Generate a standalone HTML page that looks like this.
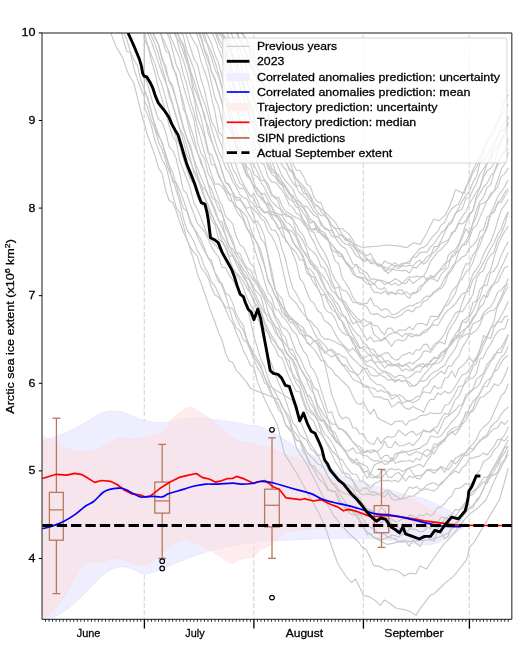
<!DOCTYPE html><html><head><meta charset="utf-8"><style>html,body{margin:0;padding:0;background:#fff;}svg{display:block;will-change:transform;}text{font-family:"Liberation Sans",sans-serif;fill:#000;stroke:#000;stroke-width:0.28px;}</style></head><body>
<svg width="522" height="652" viewBox="0 0 522 652">
<defs><clipPath id="ax"><rect x="42" y="32.9" width="469.8" height="586.4"/></clipPath></defs>
<g clip-path="url(#ax)">
<line x1="144.25" y1="32.9" x2="144.25" y2="619.3" stroke="#d6d6d6" stroke-width="1.15" stroke-dasharray="4.95,2.15" stroke-dashoffset="4.96"/>
<line x1="253.76" y1="32.9" x2="253.76" y2="619.3" stroke="#d6d6d6" stroke-width="1.15" stroke-dasharray="4.95,2.15" stroke-dashoffset="4.96"/>
<line x1="363.27" y1="32.9" x2="363.27" y2="619.3" stroke="#d6d6d6" stroke-width="1.15" stroke-dasharray="4.95,2.15" stroke-dashoffset="4.96"/>
<line x1="469.25" y1="32.9" x2="469.25" y2="619.3" stroke="#d6d6d6" stroke-width="1.15" stroke-dasharray="4.95,2.15" stroke-dashoffset="4.96"/>
<path d="M42.5,441.0 C43.4,440.7 44.9,440.2 47.7,439.3 C50.5,438.4 54.7,437.2 59.2,435.4 C63.7,433.6 69.7,431.1 74.5,428.7 C79.3,426.3 83.1,423.8 87.9,421.1 C92.7,418.4 97.8,414.1 103.2,412.5 C108.6,410.9 114.4,410.4 120.5,411.5 C126.6,412.6 133.0,417.3 139.6,419.2 C146.2,421.1 153.4,422.7 160.0,422.8 C166.6,422.9 172.8,420.7 179.2,419.9 C185.6,419.1 191.9,418.0 198.3,418.0 C204.7,418.0 211.1,419.1 217.5,419.9 C223.9,420.7 230.8,421.8 236.6,422.8 C242.3,423.8 248.1,425.1 252.0,425.7 C255.9,426.3 255.5,424.9 260.0,426.6 C264.5,428.4 272.8,432.5 279.2,436.2 C285.6,439.9 291.9,444.9 298.3,448.6 C304.7,452.3 311.1,454.4 317.5,458.2 C323.9,462.0 331.4,468.3 336.6,471.6 C341.9,474.9 342.1,475.7 349.0,478.2 C355.9,480.7 368.3,484.0 378.0,486.8 C387.7,489.6 399.4,493.0 407.2,495.0 C414.9,497.0 419.4,497.3 424.5,499.0 C429.6,500.7 433.8,503.0 438.0,505.0 C442.2,507.0 446.3,508.8 450.0,511.0 C453.7,513.2 457.2,515.6 460.0,518.0 C462.8,520.4 465.8,524.2 467.0,525.5 L466.0,526.0 C465.1,526.6 463.3,527.8 460.7,529.5 C458.1,531.2 454.0,534.2 450.3,536.4 C446.6,538.5 442.6,541.0 438.3,542.4 C434.0,543.8 429.7,545.0 424.5,545.0 C419.3,545.0 416.6,543.5 407.2,542.4 C397.8,541.3 381.2,539.1 368.3,538.5 C355.4,537.9 343.1,538.2 330.0,538.5 C316.9,538.8 301.7,539.6 290.0,540.0 C278.3,540.4 266.0,540.8 260.0,541.1 C254.0,541.4 257.8,541.4 253.9,542.0 C250.0,542.6 242.7,543.8 236.6,544.9 C230.5,546.0 222.0,547.7 217.5,548.7 C213.0,549.7 213.0,549.7 209.8,550.7 C206.6,551.7 202.5,553.1 198.3,554.5 C194.2,555.9 189.4,557.5 184.9,559.3 C180.4,561.0 175.7,563.2 171.5,565.0 C167.3,566.8 162.8,568.7 160.0,569.8 C157.2,570.9 157.8,571.0 155.0,571.7 C152.2,572.4 147.2,574.5 143.4,574.0 C139.6,573.5 135.8,570.2 132.0,569.0 C128.2,567.8 124.7,566.1 120.5,566.7 C116.3,567.3 111.7,569.0 106.7,572.4 C101.7,575.8 96.0,582.2 90.6,587.4 C85.2,592.6 79.9,598.8 74.5,603.4 C69.1,608.0 63.4,612.2 58.4,614.9 C53.4,617.5 47.2,618.6 44.6,619.3 C42.0,620.0 42.9,619.3 42.5,619.3 Z" fill="#eeeeff" stroke="#e6e6fb" stroke-width="0.8"/>
<path d="M42.5,435.4 C44.0,436.2 47.8,438.1 51.5,440.2 C55.2,442.3 60.4,446.0 64.9,447.9 C69.4,449.8 73.8,451.2 78.3,451.7 C82.8,452.2 86.9,452.1 91.7,450.8 C96.5,449.5 102.2,446.3 107.0,444.1 C111.8,441.9 116.7,438.2 120.5,437.4 C124.3,436.6 126.8,439.1 130.0,439.3 C133.2,439.5 136.3,438.9 139.6,438.3 C142.9,437.8 146.6,436.8 150.0,436.0 C153.4,435.2 157.4,434.4 160.0,433.3 C162.6,432.2 163.8,431.9 165.7,429.5 C167.6,427.1 169.2,421.7 171.5,419.0 C173.8,416.3 176.3,415.1 179.2,413.2 C182.1,411.3 186.1,408.2 188.7,407.5 C191.2,406.8 192.3,407.9 194.5,408.8 C196.7,409.8 199.9,411.8 202.1,413.2 C204.3,414.6 205.3,414.9 207.9,417.0 C210.5,419.1 214.3,423.0 217.5,425.7 C220.7,428.4 224.4,431.2 227.0,433.3 C229.6,435.4 229.9,436.7 232.8,438.1 C235.7,439.6 240.8,441.0 244.3,442.0 C247.8,443.0 251.3,443.3 253.9,443.9 C256.5,444.5 257.1,445.0 260.0,445.8 C262.9,446.6 266.7,446.9 271.5,448.6 C276.3,450.3 282.6,453.6 288.7,456.0 C294.8,458.4 301.1,459.2 308.0,463.0 C314.9,466.8 323.2,475.3 330.0,479.0 C336.8,482.7 341.0,482.9 349.0,485.0 C357.0,487.1 368.3,489.5 378.0,491.6 C387.7,493.7 399.4,495.2 407.2,497.6 C414.9,500.0 419.3,503.5 424.5,506.2 C429.7,508.9 434.3,511.7 438.3,514.0 C442.3,516.3 445.2,518.3 448.6,520.0 C452.1,521.7 456.4,523.3 459.0,524.3 C461.6,525.3 463.2,525.7 464.0,526.0 L464.0,526.0 C461.7,526.2 456.6,526.7 450.0,527.0 C443.4,527.3 431.7,527.8 424.5,528.0 C417.3,528.2 416.4,528.0 407.0,528.0 C397.6,528.0 381.1,528.2 368.3,528.0 C355.5,527.8 339.7,526.8 330.0,527.0 C320.3,527.2 316.9,528.3 310.0,529.0 C303.1,529.7 293.8,530.0 288.7,531.3 C283.6,532.6 282.4,534.6 279.2,537.0 C276.0,539.4 272.8,543.5 269.6,545.7 C266.4,548.0 262.6,548.7 260.0,550.5 C257.4,552.3 257.1,554.9 253.9,556.4 C250.7,557.9 244.3,558.2 240.5,559.3 C236.7,560.4 234.7,563.9 230.9,563.1 C227.1,562.3 221.3,556.9 217.5,554.5 C213.7,552.1 212.1,550.8 207.9,548.7 C203.8,546.6 196.8,543.6 192.6,542.0 C188.4,540.4 186.8,538.4 183.0,539.2 C179.2,540.0 173.4,544.2 169.6,546.8 C165.8,549.3 163.2,551.8 160.0,554.5 C156.8,557.2 153.8,561.5 150.3,563.2 C146.8,564.9 142.7,565.2 138.9,564.8 C135.1,564.4 130.8,562.0 127.4,560.9 C124.0,559.8 122.0,557.9 118.2,557.9 C114.4,557.9 108.6,560.2 104.4,560.9 C100.2,561.6 96.0,561.9 92.9,562.0 C89.8,562.1 89.1,558.9 86.0,561.6 C82.9,564.3 78.3,572.0 74.5,578.2 C70.7,584.4 67.2,592.8 63.0,598.9 C58.8,605.0 52.6,611.5 49.2,614.9 C45.8,618.3 43.6,618.6 42.5,619.3 Z" fill="#ffdcdc" fill-opacity="0.5" stroke="#ffd4d4" stroke-opacity="0.4" stroke-width="0.8"/>
<polyline points="87.9,-22.8 91.4,-9.9 94.9,-5.6 98.5,-1.1 102.0,1.4 105.5,7.7 109.1,14.4 112.6,20.6 116.1,22.1 119.7,25.9 123.2,39.1 126.7,51.3 130.3,52.5 133.8,67.7 137.3,79.2 140.9,88.5 144.4,97.2 144.4,107.4 144.4,107.4 147.9,115.6 151.5,126.7 155.0,140.9 158.5,149.6 162.1,159.8 165.6,165.6 169.1,178.8 172.7,194.7 176.2,207.6 179.7,212.7 183.3,225.3 186.8,239.7 190.3,246.9 193.9,252.7 197.4,256.2 200.9,267.4 204.5,272.0 208.0,277.5 211.5,287.7 215.0,295.0 218.6,297.1 222.1,301.7 225.6,309.5 229.2,317.9 232.7,323.2 236.2,332.6 239.8,340.7 243.3,350.4 246.8,357.1 250.4,365.2 253.9,367.2 257.4,381.6 261.0,390.4 264.9,400.0 277.2,424.5 284.5,453.9 296.8,473.5 309.0,495.6 318.8,512.7 326.2,529.9 333.5,552.0 338.2,564.5 345.9,576.0 351.6,582.7 355.4,578.9 359.3,586.5 363.1,595.1 369.8,597.0 375.6,600.9 380.3,605.7 384.2,599.9 389.0,602.8 396.6,608.5 404.3,609.5 410.0,611.4 415.9,615.4 418.7,610.6 423.5,604.4 430.2,595.3 434.1,593.8 438.0,590.0 445.7,582.4 453.3,576.6 461.0,567.0 466.7,559.4 469.6,546.9 474.4,542.1 482.0,528.7 487.8,519.2 493.5,509.6 499.3,500.0 504.0,484.0 508.3,468.0" fill="none" stroke="#c6c6c6" stroke-width="1.1" stroke-linejoin="round"/>
<polyline points="91.4,-3.2 94.9,6.5 98.5,7.9 102.0,17.6 105.5,20.1 109.1,28.3 112.6,37.9 116.1,46.8 119.7,52.7 123.2,59.1 126.7,70.0 130.3,77.3 133.8,83.0 137.3,97.1 140.9,111.7 144.4,124.0 147.9,136.3 151.5,145.7 155.0,155.9 158.5,167.6 162.1,173.7 165.6,190.2 169.1,200.5 172.7,202.3 176.2,211.0 179.7,221.8 183.3,232.1 186.8,238.4 190.3,249.4 193.9,260.6 197.4,274.1 200.9,282.5 204.5,293.0 208.0,303.1 211.5,313.4 215.0,322.3 218.6,332.9 222.1,340.0 225.6,353.6 229.2,361.0 232.7,362.2 236.2,370.3 239.8,373.9 243.3,378.3 246.8,382.4 250.4,388.4 279.6,400.0 289.4,422.0 296.8,449.0 306.6,463.7 316.4,483.3 323.7,498.0 333.5,515.2 343.3,527.5 353.1,537.3 358.3,541.5 362.1,547.2 366.0,549.2 369.8,556.8 373.6,565.4 379.4,566.4 387.0,570.2 391.8,569.3 398.5,571.2 404.3,576.0 410.0,573.1 415.8,574.0 419.8,566.1 426.5,569.0 434.2,557.5 443.7,544.1 451.4,536.4 459.1,526.8 464.8,519.2 470.6,513.4 478.2,507.7 485.9,500.0 497.0,475.0 508.3,454.0" fill="none" stroke="#c6c6c6" stroke-width="1.1" stroke-linejoin="round"/>
<polyline points="98.5,-15.0 102.0,-4.4 105.5,1.4 109.1,7.9 112.6,12.5 116.1,23.3 119.7,24.4 123.2,31.5 126.7,39.1 130.3,51.7 133.8,59.8 137.3,65.2 140.9,80.8 144.4,88.9 144.4,99.9 144.4,99.9 147.9,108.2 151.5,121.4 155.0,129.5 158.5,141.9 162.1,149.4 165.6,160.2 169.1,171.5 172.7,178.1 176.2,190.5 179.7,201.1 183.3,218.1 186.8,229.6 190.3,235.1 193.9,241.4 197.4,250.6 200.9,256.3 204.5,267.3 208.0,272.6 211.5,282.1 215.0,286.2 218.6,293.8 222.1,301.5 225.6,307.0 229.2,308.4 232.7,319.9 236.2,327.9 239.8,330.9 243.3,339.8 246.8,342.0 250.4,351.0 253.9,359.7 257.4,367.9 261.0,373.0 264.5,383.1 291.9,400.0 301.7,424.5 309.0,441.7 318.8,456.4 326.2,473.5 336.0,488.2 345.8,502.9 355.6,515.2 365.0,530.0 371.7,535.7 379.4,540.5 387.0,544.4 392.8,543.4 402.4,540.5 410.0,541.5 420.0,540.5 426.5,540.2 438.0,537.4 447.6,533.5 459.1,521.1 466.7,511.5 472.5,505.7 478.2,500.0 492.0,470.0 508.3,440.0" fill="none" stroke="#c6c6c6" stroke-width="1.1" stroke-linejoin="round"/>
<polyline points="98.5,-66.9 102.0,-61.1 105.5,-55.1 109.1,-45.6 112.6,-43.4 116.1,-40.7 119.7,-37.7 123.2,-28.5 126.7,-19.3 130.3,-8.0 133.8,-3.9 137.3,1.7 140.9,15.5 144.4,25.0 144.4,89.2 144.4,89.2 147.9,99.7 151.5,111.8 155.0,128.2 158.5,135.9 162.1,142.3 165.6,155.8 169.1,165.9 172.7,181.9 176.2,182.6 179.7,189.9 183.3,199.5 186.8,209.9 190.3,220.4 193.9,228.3 197.4,236.7 200.9,244.3 204.5,251.0 208.0,257.4 211.5,260.2 215.0,272.8 218.6,278.0 222.1,286.4 225.6,295.5 229.2,307.1 232.7,308.9 236.2,317.8 239.8,325.6 243.3,330.2 246.8,340.5 250.4,346.6 253.9,353.9 257.4,359.1 261.0,365.3 264.5,377.6 268.0,383.3 271.6,392.9 275.1,401.1 278.6,409.7 282.2,414.7 285.7,425.3 289.2,429.7 292.8,432.5 296.3,440.5 299.8,441.2 303.4,451.5 306.9,456.8 310.4,463.8 314.0,470.1 317.5,477.0 321.0,481.2 324.6,484.3 328.1,490.1 331.6,490.6 335.2,491.4 338.7,501.8 342.2,502.8 345.8,507.2 349.3,511.2 352.8,509.3 356.4,513.6 359.9,519.7 363.4,524.8 367.0,534.9 370.5,533.4 374.0,537.7 377.5,538.3 381.1,539.7 384.6,538.9 388.1,536.3 391.7,538.2 395.2,538.5 398.7,542.2 402.3,542.2 405.8,541.2 409.3,546.5 412.9,539.8 416.4,543.5 419.9,546.7 423.5,540.3 427.0,535.4 430.5,539.9 434.1,541.2 437.6,531.3 441.1,533.3 444.7,538.6 448.2,536.2 451.7,526.5 455.3,523.3 458.8,519.4 462.3,513.9 465.9,510.1 469.4,508.2 472.9,507.9 476.5,499.5 480.0,496.6 483.5,489.3 487.1,477.9 490.6,472.4 494.1,467.8 497.7,462.4 501.2,454.9 504.7,447.5 508.3,446.6" fill="none" stroke="#c6c6c6" stroke-width="1.1" stroke-linejoin="round"/>
<polyline points="94.9,-72.2 98.5,-63.4 102.0,-59.6 105.5,-61.2 109.1,-54.6 112.6,-46.2 116.1,-39.5 119.7,-34.1 123.2,-27.9 126.7,-20.1 130.3,-10.8 133.8,-5.2 137.3,0.1 140.9,13.3 144.4,25.0 144.4,91.4 144.4,91.4 147.9,98.0 151.5,113.5 155.0,124.3 158.5,134.3 162.1,143.0 165.6,153.5 169.1,165.2 172.7,172.4 176.2,184.5 179.7,196.7 183.3,208.1 186.8,211.1 190.3,223.4 193.9,227.9 197.4,233.4 200.9,239.5 204.5,248.7 208.0,257.7 211.5,264.1 215.0,272.5 218.6,282.0 222.1,283.6 225.6,293.6 229.2,295.4 232.7,303.4 236.2,313.8 239.8,320.5 243.3,325.6 246.8,338.9 250.4,348.2 253.9,357.0 257.4,362.1 261.0,368.1 264.5,376.4 268.0,386.7 271.6,395.4 275.1,399.2 278.6,404.9 282.2,413.6 285.7,424.8 289.2,428.2 292.8,433.8 296.3,439.6 299.8,441.5 303.4,447.5 306.9,457.9 310.4,465.7 314.0,465.9 317.5,471.6 321.0,474.9 324.6,481.5 328.1,489.2 331.6,491.7 335.2,491.6 338.7,496.7 342.2,504.9 345.8,508.7 349.3,512.9 352.8,514.9 356.4,515.2 359.9,514.2 363.4,519.5 367.0,524.9 370.5,527.2 374.0,529.3 377.5,532.2 381.1,533.2 384.6,534.1 388.1,538.0 391.7,534.9 395.2,535.5 398.7,537.2 402.3,534.0 405.8,534.7 409.3,528.9 412.9,529.0 416.4,529.7 419.9,531.8 423.5,531.4 427.0,527.3 430.5,528.5 434.1,524.5 437.6,529.1 441.1,524.3 444.7,519.1 448.2,516.5 451.7,514.6 455.3,509.4 458.8,509.9 462.3,508.7 465.9,503.2 469.4,495.4 472.9,491.3 476.5,488.5 480.0,483.3 483.5,477.8 487.1,476.8 490.6,477.7 494.1,470.7 497.7,465.5 501.2,457.7 504.7,452.4 508.3,445.9" fill="none" stroke="#c6c6c6" stroke-width="1.1" stroke-linejoin="round"/>
<polyline points="119.7,-16.7 123.2,-15.1 126.7,-5.0 130.3,4.7 133.8,5.3 137.3,11.6 140.9,17.8 144.4,25.0 144.4,38.7 144.4,38.7 147.9,47.1 151.5,60.8 155.0,72.9 158.5,88.2 162.1,99.3 165.6,111.3 169.1,125.7 172.7,136.3 176.2,141.6 179.7,160.6 183.3,169.8 186.8,179.0 190.3,188.3 193.9,202.8 197.4,209.2 200.9,217.8 204.5,227.5 208.0,235.9 211.5,241.2 215.0,244.6 218.6,248.7 222.1,249.3 225.6,258.7 229.2,263.2 232.7,270.5 236.2,273.6 239.8,279.7 243.3,287.8 246.8,297.3 250.4,304.6 253.9,310.8 257.4,316.7 261.0,327.4 264.5,343.7 268.0,355.2 271.6,364.0 275.1,373.7 278.6,383.1 282.2,390.6 285.7,400.1 289.2,410.9 292.8,422.6 296.3,426.8 299.8,435.0 303.4,437.8 306.9,440.5 310.4,448.5 314.0,451.7 317.5,456.1 321.0,454.5 324.6,459.5 328.1,470.2 331.6,471.2 335.2,473.7 338.7,478.2 342.2,482.6 345.8,483.9 349.3,485.9 352.8,489.0 356.4,495.8 359.9,498.6 363.4,504.9 367.0,509.1 370.5,510.0 374.0,512.9 377.5,513.7 381.1,507.6 384.6,510.7 388.1,516.8 391.7,524.0 395.2,525.0 398.7,527.8 402.3,531.9 405.8,526.8 409.3,528.0 412.9,526.3 416.4,517.7 419.9,520.6 423.5,522.0 427.0,521.7 430.5,522.7 434.1,524.0 437.6,522.4 441.1,517.2 444.7,517.4 448.2,519.3 451.7,518.8 455.3,516.6 458.8,511.4 462.3,505.9 465.9,501.6 469.4,495.8 472.9,494.7 476.5,489.4 480.0,486.2 483.5,481.5 487.1,483.7 490.6,474.5 494.1,475.1 497.7,472.0 501.2,463.3 504.7,459.7 508.3,450.0" fill="none" stroke="#c6c6c6" stroke-width="1.1" stroke-linejoin="round"/>
<polyline points="105.5,-54.8 109.1,-46.1 112.6,-40.1 116.1,-36.7 119.7,-27.0 123.2,-18.9 126.7,-15.8 130.3,-10.3 133.8,-0.9 137.3,8.3 140.9,21.8 144.4,25.0 144.4,75.2 144.4,75.2 147.9,85.1 151.5,98.4 155.0,109.3 158.5,119.2 162.1,122.4 165.6,131.6 169.1,146.6 172.7,150.5 176.2,158.6 179.7,173.5 183.3,190.0 186.8,193.9 190.3,204.9 193.9,213.8 197.4,223.5 200.9,227.3 204.5,231.6 208.0,238.4 211.5,246.9 215.0,252.6 218.6,257.0 222.1,267.4 225.6,267.8 229.2,274.9 232.7,280.0 236.2,286.3 239.8,291.2 243.3,297.7 246.8,303.8 250.4,320.2 253.9,336.3 257.4,347.6 261.0,360.0 264.5,366.4 268.0,378.4 271.6,386.3 275.1,392.1 278.6,398.7 282.2,407.5 285.7,411.7 289.2,416.9 292.8,430.1 296.3,434.1 299.8,439.2 303.4,445.6 306.9,452.3 310.4,456.2 314.0,459.6 317.5,463.9 321.0,465.3 324.6,469.0 328.1,477.0 331.6,483.3 335.2,483.9 338.7,490.0 342.2,492.2 345.8,494.0 349.3,494.7 352.8,497.6 356.4,497.6 359.9,503.5 363.4,504.4 367.0,509.1 370.5,510.1 374.0,511.6 377.5,515.9 381.1,523.2 384.6,518.2 388.1,517.9 391.7,519.0 395.2,521.5 398.7,521.3 402.3,518.9 405.8,518.5 409.3,515.1 412.9,515.6 416.4,517.9 419.9,514.7 423.5,515.7 427.0,513.1 430.5,516.2 434.1,512.9 437.6,507.7 441.1,506.9 444.7,503.5 448.2,498.7 451.7,496.0 455.3,488.5 458.8,488.4 462.3,486.4 465.9,483.5 469.4,484.9 472.9,482.6 476.5,474.1 480.0,470.1 483.5,461.7 487.1,459.4 490.6,456.5 494.1,449.9 497.7,446.6 501.2,439.4 504.7,440.9 508.3,435.7" fill="none" stroke="#c6c6c6" stroke-width="1.1" stroke-linejoin="round"/>
<polyline points="123.2,-16.1 126.7,-7.5 130.3,-3.8 133.8,4.1 137.3,9.4 140.9,15.0 144.4,25.0 144.4,32.7 144.4,32.7 147.9,45.4 151.5,55.5 155.0,63.6 158.5,76.4 162.1,85.3 165.6,98.9 169.1,111.6 172.7,126.0 176.2,137.5 179.7,145.6 183.3,158.3 186.8,169.1 190.3,179.5 193.9,184.4 197.4,196.6 200.9,203.9 204.5,206.9 208.0,210.4 211.5,220.0 215.0,225.2 218.6,239.0 222.1,242.0 225.6,248.0 229.2,258.2 232.7,268.0 236.2,272.8 239.8,276.5 243.3,281.4 246.8,288.0 250.4,293.1 253.9,299.7 257.4,312.4 261.0,320.2 264.5,328.6 268.0,332.8 271.6,342.8 275.1,347.7 278.6,356.2 282.2,357.9 285.7,368.4 289.2,377.0 292.8,384.9 296.3,391.4 299.8,391.8 303.4,402.9 306.9,412.3 310.4,418.2 314.0,421.7 317.5,431.0 321.0,434.0 324.6,438.7 328.1,446.6 331.6,453.7 335.2,461.6 338.7,466.8 342.2,473.3 345.8,473.4 349.3,474.4 352.8,481.5 356.4,485.7 359.9,493.6 363.4,494.8 367.0,493.9 370.5,494.4 374.0,495.4 377.5,494.2 381.1,495.2 384.6,496.8 388.1,492.2 391.7,499.0 395.2,500.2 398.7,499.4 402.3,498.8 405.8,498.3 409.3,496.3 412.9,496.2 416.4,494.0 419.9,490.7 423.5,490.0 427.0,488.8 430.5,490.3 434.1,490.9 437.6,488.1 441.1,482.7 444.7,480.5 448.2,476.5 451.7,473.6 455.3,470.7 458.8,473.1 462.3,467.6 465.9,464.8 469.4,458.6 472.9,457.9 476.5,456.8 480.0,455.9 483.5,453.1 487.1,454.9 490.6,450.5 494.1,446.1 497.7,439.6 501.2,439.0 504.7,434.9 508.3,426.8" fill="none" stroke="#c6c6c6" stroke-width="1.1" stroke-linejoin="round"/>
<polyline points="130.3,-6.3 133.8,-1.7 137.3,7.8 140.9,17.7 144.4,20.0 147.9,28.8 151.5,36.0 155.0,44.4 158.5,54.4 162.1,67.8 165.6,80.0 169.1,95.8 172.7,105.2 176.2,117.6 179.7,128.4 183.3,134.6 186.8,146.1 190.3,158.5 193.9,173.0 197.4,179.0 200.9,184.2 204.5,197.1 208.0,204.2 211.5,214.1 215.0,221.9 218.6,230.0 222.1,240.9 225.6,246.9 229.2,256.0 232.7,256.1 236.2,260.2 239.8,268.1 243.3,274.6 246.8,281.7 250.4,288.3 253.9,295.0 257.4,303.1 261.0,310.6 264.5,321.0 268.0,329.0 271.6,335.6 275.1,340.5 278.6,348.1 282.2,349.6 285.7,359.2 289.2,368.1 292.8,374.1 296.3,379.2 299.8,383.1 303.4,390.9 306.9,402.2 310.4,410.0 314.0,413.8 317.5,420.7 321.0,426.0 324.6,434.2 328.1,437.2 331.6,442.3 335.2,448.7 338.7,457.3 342.2,468.9 345.8,476.4 349.3,477.9 352.8,479.6 356.4,490.9 359.9,491.2 363.4,488.1 367.0,487.9 370.5,492.2 374.0,491.9 377.5,493.5 381.1,494.6 384.6,491.6 388.1,489.9 391.7,493.2 395.2,495.8 398.7,497.9 402.3,499.0 405.8,492.2 409.3,487.1 412.9,488.4 416.4,486.4 419.9,489.3 423.5,488.5 427.0,484.8 430.5,483.6 434.1,482.7 437.6,485.3 441.1,484.6 444.7,480.1 448.2,476.4 451.7,471.5 455.3,468.4 458.8,463.6 462.3,458.2 465.9,452.0 469.4,447.5 472.9,444.2 476.5,439.3 480.0,431.1 483.5,427.0 487.1,424.2 490.6,420.0 494.1,411.8 497.7,404.1 501.2,395.7 504.7,392.5 508.3,383.7" fill="none" stroke="#c6c6c6" stroke-width="1.1" stroke-linejoin="round"/>
<polyline points="130.3,-8.0 133.8,0.1 137.3,9.0 140.9,19.9 144.4,25.0 144.4,25.8 144.4,25.8 147.9,33.8 151.5,41.9 155.0,52.2 158.5,63.4 162.1,73.6 165.6,82.4 169.1,91.4 172.7,104.4 176.2,116.0 179.7,128.9 183.3,140.8 186.8,155.2 190.3,161.6 193.9,170.0 197.4,176.3 200.9,188.9 204.5,197.4 208.0,208.3 211.5,214.6 215.0,222.4 218.6,228.0 222.1,236.4 225.6,242.0 229.2,251.0 232.7,255.9 236.2,263.9 239.8,271.5 243.3,277.1 246.8,282.5 250.4,293.2 253.9,302.2 257.4,306.0 261.0,312.2 264.5,324.0 268.0,332.8 271.6,338.5 275.1,342.3 278.6,348.1 282.2,352.5 285.7,357.8 289.2,361.0 292.8,375.9 296.3,383.4 299.8,387.9 303.4,399.5 306.9,409.0 310.4,412.8 314.0,415.4 317.5,419.1 321.0,431.8 324.6,439.9 328.1,444.1 331.6,450.3 335.2,454.0 338.7,458.8 342.2,459.4 345.8,466.3 349.3,470.7 352.8,474.3 356.4,474.3 359.9,480.9 363.4,481.1 367.0,484.7 370.5,488.5 374.0,483.8 377.5,482.6 381.1,479.7 384.6,480.9 388.1,480.4 391.7,481.2 395.2,480.3 398.7,482.0 402.3,477.2 405.8,481.0 409.3,475.9 412.9,477.8 416.4,475.5 419.9,475.6 423.5,474.3 427.0,470.2 430.5,470.9 434.1,473.2 437.6,470.5 441.1,467.1 444.7,472.4 448.2,465.2 451.7,460.2 455.3,463.9 458.8,460.4 462.3,454.9 465.9,456.0 469.4,453.3 472.9,450.4 476.5,445.3 480.0,439.9 483.5,438.8 487.1,436.5 490.6,431.7 494.1,428.9 497.7,427.6 501.2,421.8 504.7,424.5 508.3,420.3" fill="none" stroke="#c6c6c6" stroke-width="1.1" stroke-linejoin="round"/>
<polyline points="144.4,-9.0 147.9,-0.8 151.5,7.8 155.0,12.6 158.5,20.8 162.1,36.7 165.6,44.4 169.1,52.2 172.7,65.7 176.2,76.3 179.7,89.9 183.3,101.1 186.8,118.2 190.3,133.9 193.9,144.1 197.4,152.9 200.9,159.6 204.5,171.8 208.0,183.4 211.5,189.2 215.0,198.6 218.6,202.8 222.1,213.7 225.6,227.8 229.2,235.6 232.7,243.5 236.2,252.1 239.8,258.2 243.3,264.3 246.8,269.7 250.4,276.3 253.9,280.4 257.4,285.8 261.0,292.5 264.5,299.2 268.0,311.4 271.6,320.3 275.1,326.1 278.6,329.5 282.2,339.0 285.7,344.5 289.2,348.8 292.8,349.9 296.3,358.4 299.8,368.2 303.4,372.5 306.9,380.6 310.4,389.5 314.0,393.7 317.5,404.4 321.0,410.1 324.6,416.1 328.1,419.8 331.6,429.9 335.2,438.4 338.7,443.2 342.2,448.1 345.8,452.3 349.3,457.9 352.8,460.6 356.4,463.0 359.9,466.8 363.4,472.8 367.0,470.8 370.5,477.5 374.0,478.0 377.5,475.7 381.1,478.4 384.6,474.3 388.1,470.1 391.7,468.4 395.2,470.0 398.7,468.9 402.3,471.5 405.8,469.7 409.3,467.8 412.9,466.9 416.4,465.2 419.9,464.2 423.5,467.0 427.0,460.8 430.5,456.4 434.1,448.0 437.6,445.5 441.1,444.0 444.7,439.2 448.2,435.2 451.7,432.7 455.3,430.0 458.8,429.1 462.3,422.0 465.9,411.8 469.4,413.2 472.9,408.8 476.5,399.3 480.0,393.2 483.5,386.7 487.1,386.5 490.6,380.1 494.1,371.1 497.7,363.3 501.2,357.2 504.7,354.2 508.3,345.9" fill="none" stroke="#c6c6c6" stroke-width="1.1" stroke-linejoin="round"/>
<polyline points="144.4,-2.5 147.9,4.1 151.5,17.1 155.0,19.0 158.5,25.8 162.1,39.1 165.6,50.7 169.1,53.6 172.7,67.9 176.2,73.9 179.7,89.4 183.3,108.9 186.8,115.6 190.3,126.7 193.9,137.7 197.4,152.0 200.9,163.5 204.5,170.7 208.0,183.3 211.5,196.8 215.0,200.1 218.6,209.8 222.1,213.5 225.6,223.8 229.2,232.5 232.7,240.0 236.2,252.7 239.8,253.2 243.3,261.5 246.8,267.8 250.4,269.9 253.9,277.8 257.4,282.9 261.0,290.4 264.5,296.3 268.0,304.0 271.6,308.9 275.1,318.3 278.6,324.6 282.2,334.1 285.7,337.3 289.2,351.2 292.8,355.3 296.3,360.3 299.8,366.5 303.4,374.3 306.9,378.4 310.4,382.1 314.0,394.6 317.5,407.8 321.0,415.5 324.6,421.6 328.1,425.6 331.6,430.4 335.2,432.9 338.7,441.0 342.2,446.7 345.8,451.8 349.3,459.1 352.8,463.1 356.4,458.6 359.9,464.7 363.4,470.9 367.0,478.2 370.5,474.1 374.0,476.2 377.5,478.2 381.1,470.9 384.6,469.7 388.1,477.3 391.7,477.4 395.2,473.8 398.7,472.4 402.3,476.6 405.8,471.0 409.3,467.7 412.9,473.7 416.4,478.1 419.9,479.0 423.5,473.7 427.0,469.5 430.5,469.2 434.1,470.6 437.6,469.3 441.1,466.1 444.7,468.4 448.2,469.8 451.7,465.2 455.3,458.3 458.8,456.2 462.3,453.8 465.9,453.4 469.4,447.4 472.9,449.6 476.5,444.6 480.0,441.6 483.5,436.9 487.1,434.7 490.6,427.0 494.1,423.3 497.7,420.6 501.2,414.1 504.7,410.1 508.3,407.0" fill="none" stroke="#c6c6c6" stroke-width="1.1" stroke-linejoin="round"/>
<polyline points="133.8,-3.3 137.3,1.4 140.9,8.7 144.4,9.8 147.9,24.6 151.5,29.8 155.0,38.4 158.5,44.6 162.1,60.1 165.6,65.9 169.1,81.3 172.7,89.4 176.2,99.8 179.7,112.1 183.3,126.1 186.8,138.9 190.3,148.4 193.9,160.5 197.4,174.6 200.9,185.7 204.5,189.0 208.0,195.0 211.5,203.2 215.0,212.6 218.6,220.4 222.1,227.7 225.6,235.4 229.2,245.4 232.7,253.4 236.2,261.6 239.8,265.4 243.3,273.4 246.8,278.2 250.4,279.9 253.9,288.4 257.4,292.4 261.0,296.3 264.5,310.7 268.0,320.4 271.6,323.7 275.1,332.1 278.6,336.6 282.2,341.9 285.7,351.2 289.2,355.8 292.8,359.2 296.3,366.5 299.8,378.6 303.4,386.4 306.9,394.7 310.4,396.8 314.0,405.6 317.5,414.3 321.0,419.4 324.6,423.3 328.1,430.5 331.6,435.5 335.2,440.8 338.7,444.0 342.2,447.0 345.8,452.2 349.3,458.1 352.8,459.8 356.4,464.8 359.9,463.0 363.4,464.8 367.0,466.4 370.5,474.3 374.0,465.5 377.5,463.1 381.1,462.1 384.6,464.4 388.1,463.8 391.7,457.5 395.2,463.2 398.7,461.9 402.3,461.1 405.8,461.3 409.3,460.2 412.9,462.3 416.4,458.2 419.9,460.4 423.5,452.1 427.0,449.4 430.5,451.1 434.1,453.8 437.6,447.7 441.1,442.0 444.7,441.2 448.2,431.9 451.7,428.9 455.3,427.3 458.8,426.7 462.3,420.8 465.9,415.7 469.4,408.5 472.9,401.5 476.5,398.1 480.0,392.8 483.5,385.0 487.1,380.6 490.6,378.2 494.1,372.0 497.7,369.2 501.2,362.6 504.7,357.7 508.3,355.5" fill="none" stroke="#c6c6c6" stroke-width="1.1" stroke-linejoin="round"/>
<polyline points="133.8,-3.9 137.3,-1.8 140.9,2.8 144.4,12.8 147.9,21.1 151.5,28.9 155.0,37.3 158.5,44.2 162.1,57.1 165.6,70.3 169.1,80.3 172.7,85.6 176.2,100.2 179.7,115.1 183.3,128.2 186.8,137.6 190.3,145.0 193.9,158.9 197.4,168.2 200.9,177.2 204.5,185.4 208.0,194.6 211.5,201.0 215.0,209.2 218.6,220.5 222.1,222.0 225.6,236.2 229.2,246.6 232.7,249.0 236.2,255.6 239.8,263.3 243.3,269.1 246.8,274.0 250.4,282.5 253.9,290.6 257.4,299.0 261.0,306.2 264.5,313.0 268.0,314.7 271.6,321.3 275.1,327.2 278.6,336.6 282.2,340.4 285.7,352.6 289.2,356.8 292.8,361.8 296.3,371.3 299.8,381.1 303.4,385.6 306.9,394.8 310.4,403.3 314.0,408.5 317.5,417.0 321.0,421.1 324.6,419.9 328.1,428.3 331.6,431.4 335.2,440.2 338.7,443.6 342.2,447.7 345.8,450.7 349.3,450.6 352.8,447.8 356.4,453.3 359.9,452.8 363.4,455.5 367.0,455.9 370.5,458.9 374.0,460.9 377.5,460.6 381.1,461.8 384.6,460.4 388.1,462.3 391.7,460.3 395.2,458.7 398.7,453.4 402.3,450.7 405.8,452.3 409.3,455.4 412.9,453.6 416.4,451.6 419.9,452.7 423.5,454.3 427.0,456.7 430.5,452.4 434.1,444.0 437.6,444.2 441.1,441.4 444.7,438.7 448.2,435.4 451.7,431.3 455.3,434.8 458.8,429.9 462.3,424.0 465.9,420.3 469.4,413.0 472.9,411.4 476.5,405.0 480.0,397.4 483.5,396.7 487.1,393.4 490.6,390.3 494.1,383.7 497.7,385.7 501.2,382.6 504.7,375.7 508.3,366.9" fill="none" stroke="#c6c6c6" stroke-width="1.1" stroke-linejoin="round"/>
<polyline points="151.5,-11.1 155.0,-1.4 158.5,4.3 162.1,9.1 165.6,19.4 169.1,32.8 172.7,41.7 176.2,50.1 179.7,58.2 183.3,73.7 186.8,84.8 190.3,100.7 193.9,111.9 197.4,127.4 200.9,138.9 204.5,152.9 208.0,163.4 211.5,174.4 215.0,184.3 218.6,183.9 222.1,186.6 225.6,192.5 229.2,200.2 232.7,202.0 236.2,210.3 239.8,215.7 243.3,220.1 246.8,228.6 250.4,234.4 253.9,246.7 257.4,258.1 261.0,268.3 264.5,281.7 268.0,292.7 271.6,297.1 275.1,309.0 278.6,310.5 282.2,316.4 285.7,319.8 289.2,325.3 292.8,331.3 296.3,334.1 299.8,343.3 303.4,351.1 306.9,355.2 310.4,365.8 314.0,370.6 317.5,378.5 321.0,389.8 324.6,401.4 328.1,412.9 331.6,411.5 335.2,422.3 338.7,429.2 342.2,429.7 345.8,433.2 349.3,437.6 352.8,441.7 356.4,446.1 359.9,450.5 363.4,453.2 367.0,451.8 370.5,450.4 374.0,449.7 377.5,452.5 381.1,459.4 384.6,455.5 388.1,455.2 391.7,461.5 395.2,453.9 398.7,452.9 402.3,452.8 405.8,451.8 409.3,451.1 412.9,450.0 416.4,449.1 419.9,448.2 423.5,445.4 427.0,443.6 430.5,436.0 434.1,436.8 437.6,437.3 441.1,435.9 444.7,430.7 448.2,426.6 451.7,421.8 455.3,418.1 458.8,413.6 462.3,406.1 465.9,398.0 469.4,393.7 472.9,389.7 476.5,387.5 480.0,383.3 483.5,375.0 487.1,368.5 490.6,361.7 494.1,357.8 497.7,350.1 501.2,347.8 504.7,341.6 508.3,334.2" fill="none" stroke="#c6c6c6" stroke-width="1.1" stroke-linejoin="round"/>
<polyline points="147.9,-7.0 151.5,-0.3 155.0,4.2 158.5,12.1 162.1,20.5 165.6,30.2 169.1,37.5 172.7,50.4 176.2,65.0 179.7,72.1 183.3,85.8 186.8,97.8 190.3,108.8 193.9,119.6 197.4,141.4 200.9,153.2 204.5,158.4 208.0,173.4 211.5,179.3 215.0,188.6 218.6,198.5 222.1,205.2 225.6,216.4 229.2,220.2 232.7,223.8 236.2,236.3 239.8,244.4 243.3,247.2 246.8,254.5 250.4,263.6 253.9,267.1 257.4,280.6 261.0,287.2 264.5,292.9 268.0,300.2 271.6,304.2 275.1,315.8 278.6,320.1 282.2,327.5 285.7,329.1 289.2,333.3 292.8,343.3 296.3,352.4 299.8,357.6 303.4,365.9 306.9,373.3 310.4,378.6 314.0,387.7 317.5,390.3 321.0,399.9 324.6,409.5 328.1,418.7 331.6,423.9 335.2,424.2 338.7,427.9 342.2,429.2 345.8,431.7 349.3,436.0 352.8,442.3 356.4,444.9 359.9,446.4 363.4,452.3 367.0,450.3 370.5,453.0 374.0,451.3 377.5,451.4 381.1,448.4 384.6,441.3 388.1,447.5 391.7,447.3 395.2,441.4 398.7,445.8 402.3,445.7 405.8,444.8 409.3,442.6 412.9,445.9 416.4,441.6 419.9,437.8 423.5,429.7 427.0,431.4 430.5,432.3 434.1,429.5 437.6,433.8 441.1,426.5 444.7,417.9 448.2,416.0 451.7,413.0 455.3,410.1 458.8,405.5 462.3,404.6 465.9,394.5 469.4,392.5 472.9,389.0 476.5,379.3 480.0,376.3 483.5,373.5 487.1,364.1 490.6,360.7 494.1,354.4 497.7,352.7 501.2,352.4 504.7,344.5 508.3,334.6" fill="none" stroke="#c6c6c6" stroke-width="1.1" stroke-linejoin="round"/>
<polyline points="162.1,-12.6 165.6,0.0 169.1,12.9 172.7,23.6 176.2,36.2 179.7,50.8 183.3,60.2 186.8,72.0 190.3,85.4 193.9,97.4 197.4,118.3 200.9,126.8 204.5,137.2 208.0,152.8 211.5,154.5 215.0,164.0 218.6,174.3 222.1,182.3 225.6,187.4 229.2,193.2 232.7,202.7 236.2,206.8 239.8,209.2 243.3,212.9 246.8,217.2 250.4,228.2 253.9,237.0 257.4,244.4 261.0,256.6 264.5,266.3 268.0,279.4 271.6,286.8 275.1,295.5 278.6,300.9 282.2,307.3 285.7,314.7 289.2,321.4 292.8,323.2 296.3,327.4 299.8,333.6 303.4,335.9 306.9,335.5 310.4,336.4 314.0,340.7 317.5,344.2 321.0,354.0 324.6,362.9 328.1,378.2 331.6,394.3 335.2,403.1 338.7,414.2 342.2,418.9 345.8,416.9 349.3,418.7 352.8,427.8 356.4,428.4 359.9,434.3 363.4,433.4 367.0,441.3 370.5,443.3 374.0,444.6 377.5,437.3 381.1,443.4 384.6,438.7 388.1,436.2 391.7,437.4 395.2,435.9 398.7,430.2 402.3,433.2 405.8,435.7 409.3,432.2 412.9,431.4 416.4,435.4 419.9,433.1 423.5,430.6 427.0,432.1 430.5,430.9 434.1,428.0 437.6,426.2 441.1,418.7 444.7,413.2 448.2,414.6 451.7,407.7 455.3,399.6 458.8,396.3 462.3,388.3 465.9,379.1 469.4,376.0 472.9,366.7 476.5,363.4 480.0,349.2 483.5,341.8 487.1,335.5 490.6,329.0 494.1,320.7 497.7,304.2 501.2,297.0 504.7,288.0 508.3,278.4" fill="none" stroke="#c6c6c6" stroke-width="1.1" stroke-linejoin="round"/>
<polyline points="151.5,-5.3 155.0,-1.8 158.5,1.4 162.1,11.7 165.6,15.2 169.1,22.2 172.7,29.5 176.2,37.2 179.7,42.2 183.3,52.3 186.8,61.7 190.3,74.0 193.9,94.9 197.4,107.1 200.9,117.1 204.5,133.5 208.0,149.7 211.5,164.6 215.0,165.0 218.6,176.4 222.1,182.1 225.6,191.0 229.2,194.0 232.7,194.7 236.2,205.9 239.8,210.4 243.3,217.5 246.8,227.3 250.4,233.3 253.9,238.3 257.4,243.2 261.0,251.3 264.5,264.6 268.0,280.9 271.6,287.5 275.1,296.2 278.6,303.0 282.2,312.2 285.7,316.7 289.2,315.7 292.8,318.8 296.3,323.1 299.8,329.0 303.4,336.8 306.9,341.7 310.4,345.7 314.0,349.0 317.5,354.6 321.0,360.8 324.6,360.7 328.1,366.8 331.6,368.7 335.2,374.5 338.7,377.2 342.2,381.0 345.8,384.3 349.3,388.0 352.8,396.1 356.4,403.0 359.9,404.5 363.4,402.3 367.0,409.2 370.5,414.1 374.0,409.0 377.5,417.5 381.1,420.0 384.6,421.5 388.1,423.5 391.7,424.9 395.2,421.3 398.7,421.3 402.3,421.0 405.8,425.5 409.3,420.8 412.9,419.7 416.4,418.7 419.9,415.8 423.5,415.1 427.0,414.9 430.5,412.7 434.1,413.6 437.6,413.4 441.1,413.2 444.7,405.5 448.2,404.4 451.7,399.9 455.3,393.3 458.8,386.2 462.3,386.3 465.9,382.7 469.4,378.8 472.9,378.2 476.5,373.2 480.0,359.3 483.5,357.4 487.1,348.9 490.6,344.6 494.1,337.0 497.7,331.6 501.2,329.1 504.7,328.9 508.3,318.7" fill="none" stroke="#c6c6c6" stroke-width="1.1" stroke-linejoin="round"/>
<polyline points="155.0,-4.6 158.5,4.3 162.1,11.0 165.6,14.6 169.1,25.2 172.7,26.1 176.2,30.0 179.7,38.0 183.3,46.2 186.8,61.7 190.3,70.4 193.9,79.8 197.4,91.8 200.9,103.4 204.5,118.3 208.0,126.3 211.5,140.1 215.0,151.0 218.6,159.8 222.1,172.4 225.6,182.2 229.2,184.3 232.7,193.0 236.2,197.6 239.8,197.6 243.3,205.2 246.8,211.0 250.4,217.1 253.9,222.5 257.4,220.9 261.0,227.6 264.5,236.4 268.0,256.8 271.6,276.3 275.1,289.5 278.6,294.8 282.2,298.9 285.7,311.4 289.2,319.5 292.8,319.3 296.3,322.2 299.8,325.1 303.4,327.7 306.9,335.0 310.4,337.2 314.0,340.8 317.5,340.0 321.0,345.2 324.6,353.4 328.1,350.5 331.6,349.0 335.2,352.1 338.7,358.8 342.2,365.4 345.8,365.1 349.3,370.7 352.8,372.2 356.4,373.9 359.9,378.7 363.4,387.5 367.0,386.7 370.5,391.7 374.0,397.0 377.5,396.8 381.1,397.4 384.6,399.3 388.1,399.4 391.7,407.0 395.2,404.9 398.7,401.7 402.3,405.1 405.8,408.4 409.3,409.4 412.9,406.3 416.4,408.5 419.9,410.0 423.5,412.3 427.0,404.3 430.5,399.3 434.1,399.5 437.6,392.8 441.1,394.7 444.7,391.2 448.2,393.2 451.7,391.7 455.3,386.3 458.8,380.3 462.3,374.7 465.9,373.6 469.4,369.7 472.9,364.1 476.5,359.1 480.0,353.8 483.5,345.4 487.1,337.4 490.6,338.5 494.1,327.5 497.7,322.0 501.2,315.7 504.7,309.3 508.3,301.3" fill="none" stroke="#c6c6c6" stroke-width="1.1" stroke-linejoin="round"/>
<polyline points="155.0,-4.2 158.5,5.3 162.1,8.9 165.6,14.5 169.1,21.7 172.7,21.6 176.2,30.0 179.7,39.6 183.3,43.9 186.8,56.7 190.3,69.5 193.9,87.4 197.4,95.9 200.9,105.6 204.5,114.4 208.0,132.5 211.5,141.6 215.0,150.1 218.6,160.3 222.1,170.5 225.6,182.5 229.2,186.1 232.7,192.0 236.2,200.1 239.8,199.9 243.3,203.8 246.8,208.3 250.4,207.2 253.9,216.3 257.4,228.4 261.0,238.8 264.5,243.0 268.0,255.0 271.6,270.3 275.1,288.3 278.6,298.7 282.2,306.8 285.7,310.1 289.2,316.1 292.8,321.5 296.3,324.0 299.8,329.2 303.4,330.6 306.9,342.9 310.4,344.9 314.0,340.8 317.5,342.9 321.0,348.9 324.6,350.9 328.1,354.4 331.6,357.1 335.2,355.2 338.7,360.8 342.2,363.6 345.8,369.3 349.3,373.5 352.8,379.2 356.4,381.1 359.9,382.8 363.4,384.7 367.0,386.0 370.5,387.7 374.0,388.2 377.5,391.7 381.1,390.3 384.6,392.2 388.1,391.7 391.7,395.7 395.2,394.6 398.7,397.2 402.3,403.3 405.8,401.8 409.3,401.2 412.9,402.7 416.4,401.1 419.9,398.1 423.5,387.6 427.0,386.1 430.5,379.9 434.1,377.4 437.6,374.1 441.1,371.2 444.7,374.0 448.2,366.1 451.7,366.0 455.3,359.9 458.8,356.1 462.3,347.4 465.9,341.8 469.4,335.0 472.9,332.7 476.5,330.4 480.0,324.8 483.5,315.2 487.1,312.9 490.6,310.5 494.1,310.2 497.7,306.2 501.2,299.9 504.7,292.2 508.3,286.0" fill="none" stroke="#c6c6c6" stroke-width="1.1" stroke-linejoin="round"/>
<polyline points="162.1,-5.0 165.6,-0.9 169.1,12.4 172.7,20.3 176.2,25.7 179.7,31.4 183.3,35.6 186.8,51.2 190.3,59.2 193.9,68.9 197.4,82.4 200.9,94.0 204.5,103.0 208.0,115.1 211.5,128.5 215.0,139.8 218.6,151.2 222.1,158.4 225.6,168.2 229.2,172.9 232.7,181.7 236.2,187.0 239.8,194.5 243.3,197.8 246.8,198.6 250.4,205.9 253.9,210.0 257.4,213.1 261.0,218.6 264.5,221.2 268.0,231.5 271.6,235.8 275.1,242.9 278.6,252.0 282.2,267.3 285.7,282.3 289.2,296.2 292.8,299.9 296.3,303.3 299.8,309.0 303.4,314.0 306.9,317.8 310.4,324.4 314.0,332.6 317.5,338.4 321.0,341.4 324.6,344.8 328.1,349.9 331.6,351.0 335.2,354.7 338.7,353.6 342.2,356.6 345.8,357.3 349.3,364.9 352.8,369.7 356.4,374.9 359.9,374.0 363.4,367.5 367.0,373.3 370.5,379.3 374.0,381.8 377.5,384.8 381.1,384.8 384.6,388.3 388.1,393.3 391.7,399.2 395.2,396.9 398.7,394.6 402.3,396.2 405.8,400.1 409.3,400.8 412.9,399.9 416.4,396.6 419.9,396.0 423.5,391.8 427.0,392.5 430.5,393.1 434.1,385.7 437.6,388.4 441.1,387.8 444.7,378.5 448.2,377.1 451.7,370.8 455.3,377.2 458.8,368.7 462.3,365.9 465.9,362.4 469.4,357.6 472.9,361.9 476.5,357.1 480.0,349.1 483.5,335.6 487.1,337.4 490.6,328.0 494.1,325.8 497.7,321.5 501.2,322.6 504.7,316.8 508.3,315.7" fill="none" stroke="#c6c6c6" stroke-width="1.1" stroke-linejoin="round"/>
<polyline points="172.7,-3.0 176.2,4.4 179.7,7.1 183.3,11.4 186.8,13.6 190.3,25.0 193.9,29.4 197.4,35.4 200.9,46.5 204.5,57.1 208.0,68.2 211.5,83.1 215.0,98.0 218.6,106.6 222.1,122.1 225.6,135.7 229.2,143.4 232.7,155.7 236.2,165.6 239.8,176.3 243.3,183.7 246.8,190.3 250.4,195.9 253.9,193.9 257.4,200.8 261.0,209.9 264.5,213.2 268.0,212.1 271.6,218.6 275.1,221.2 278.6,227.4 282.2,235.4 285.7,239.2 289.2,245.6 292.8,249.0 296.3,252.6 299.8,260.0 303.4,259.9 306.9,273.0 310.4,276.5 314.0,283.7 317.5,287.7 321.0,294.6 324.6,308.0 328.1,312.1 331.6,313.2 335.2,318.9 338.7,327.7 342.2,332.5 345.8,334.8 349.3,335.7 352.8,343.2 356.4,347.0 359.9,353.5 363.4,359.2 367.0,361.9 370.5,359.8 374.0,361.9 377.5,367.1 381.1,370.3 384.6,371.6 388.1,375.0 391.7,378.4 395.2,380.4 398.7,379.3 402.3,381.8 405.8,380.1 409.3,386.3 412.9,386.3 416.4,385.0 419.9,381.0 423.5,381.3 427.0,379.2 430.5,374.6 434.1,371.9 437.6,370.6 441.1,367.4 444.7,365.6 448.2,358.4 451.7,353.9 455.3,348.5 458.8,340.1 462.3,336.5 465.9,334.6 469.4,332.9 472.9,323.7 476.5,322.1 480.0,320.2 483.5,312.9 487.1,309.2 490.6,306.7 494.1,301.3 497.7,292.1 501.2,289.9 504.7,285.6 508.3,284.4" fill="none" stroke="#c6c6c6" stroke-width="1.1" stroke-linejoin="round"/>
<polyline points="172.7,-2.7 176.2,6.8 179.7,15.0 183.3,22.6 186.8,31.7 190.3,34.4 193.9,41.4 197.4,47.0 200.9,61.4 204.5,71.3 208.0,81.5 211.5,97.5 215.0,112.1 218.6,131.9 222.1,136.0 225.6,148.9 229.2,157.6 232.7,168.7 236.2,174.4 239.8,183.6 243.3,185.5 246.8,190.2 250.4,195.7 253.9,198.2 257.4,207.1 261.0,208.3 264.5,212.4 268.0,211.6 271.6,215.3 275.1,222.3 278.6,229.1 282.2,227.3 285.7,241.0 289.2,244.6 292.8,253.4 296.3,262.5 299.8,278.4 303.4,282.9 306.9,292.2 310.4,300.6 314.0,303.2 317.5,310.5 321.0,313.2 324.6,320.9 328.1,323.0 331.6,326.6 335.2,333.9 338.7,339.8 342.2,344.0 345.8,347.5 349.3,351.1 352.8,348.1 356.4,352.0 359.9,357.3 363.4,361.4 367.0,365.9 370.5,366.6 374.0,368.9 377.5,372.7 381.1,375.6 384.6,377.1 388.1,380.3 391.7,379.4 395.2,382.2 398.7,380.1 402.3,381.6 405.8,380.2 409.3,382.3 412.9,385.9 416.4,384.9 419.9,380.6 423.5,375.4 427.0,371.3 430.5,367.3 434.1,363.1 437.6,359.9 441.1,355.9 444.7,353.4 448.2,347.6 451.7,343.8 455.3,339.1 458.8,333.2 462.3,321.7 465.9,322.8 469.4,317.6 472.9,311.2 476.5,302.9 480.0,296.4 483.5,285.6 487.1,285.1 490.6,272.6 494.1,270.9 497.7,265.1 501.2,255.4 504.7,248.2 508.3,241.4" fill="none" stroke="#c6c6c6" stroke-width="1.1" stroke-linejoin="round"/>
<polyline points="158.5,-6.3 162.1,-0.9 165.6,-1.0 169.1,0.4 172.7,6.8 176.2,12.9 179.7,21.2 183.3,24.3 186.8,36.5 190.3,46.9 193.9,58.8 197.4,64.5 200.9,79.0 204.5,89.9 208.0,106.6 211.5,121.3 215.0,128.1 218.6,137.7 222.1,147.1 225.6,157.8 229.2,167.9 232.7,175.9 236.2,184.1 239.8,188.5 243.3,188.1 246.8,193.8 250.4,201.4 253.9,204.3 257.4,209.6 261.0,214.9 264.5,217.2 268.0,222.9 271.6,230.2 275.1,230.4 278.6,235.9 282.2,249.6 285.7,259.7 289.2,276.0 292.8,288.0 296.3,293.6 299.8,300.8 303.4,305.3 306.9,319.4 310.4,320.6 314.0,325.2 317.5,328.6 321.0,335.9 324.6,339.2 328.1,338.9 331.6,340.3 335.2,342.0 338.7,343.9 342.2,345.6 345.8,349.5 349.3,354.3 352.8,358.7 356.4,361.6 359.9,365.5 363.4,368.4 367.0,368.3 370.5,374.7 374.0,375.9 377.5,376.1 381.1,373.3 384.6,371.2 388.1,372.7 391.7,375.0 395.2,377.8 398.7,375.4 402.3,375.5 405.8,378.2 409.3,377.2 412.9,374.8 416.4,371.5 419.9,372.2 423.5,366.7 427.0,363.7 430.5,365.0 434.1,363.6 437.6,363.2 441.1,361.3 444.7,355.2 448.2,347.3 451.7,341.1 455.3,339.1 458.8,337.3 462.3,334.7 465.9,328.1 469.4,324.7 472.9,317.3 476.5,313.1 480.0,307.3 483.5,303.9 487.1,292.8 490.6,286.8 494.1,283.8 497.7,282.0 501.2,274.6 504.7,267.6 508.3,266.2" fill="none" stroke="#c6c6c6" stroke-width="1.1" stroke-linejoin="round"/>
<polyline points="183.3,-3.0 186.8,4.2 190.3,10.3 193.9,15.7 197.4,18.8 200.9,26.1 204.5,40.0 208.0,44.6 211.5,52.5 215.0,61.9 218.6,73.8 222.1,87.3 225.6,98.9 229.2,114.2 232.7,130.7 236.2,141.1 239.8,153.5 243.3,156.9 246.8,167.0 250.4,170.3 253.9,182.3 257.4,190.4 261.0,192.5 264.5,201.4 268.0,205.1 271.6,212.5 275.1,212.1 278.6,219.7 282.2,221.7 285.7,229.4 289.2,230.0 292.8,231.7 296.3,237.9 299.8,247.0 303.4,250.8 306.9,254.4 310.4,259.8 314.0,264.3 317.5,267.9 321.0,277.1 324.6,285.9 328.1,294.1 331.6,299.3 335.2,305.2 338.7,312.0 342.2,316.2 345.8,317.0 349.3,327.6 352.8,334.9 356.4,340.9 359.9,348.0 363.4,348.2 367.0,353.2 370.5,355.1 374.0,362.7 377.5,361.4 381.1,363.2 384.6,368.1 388.1,365.0 391.7,363.9 395.2,365.8 398.7,366.6 402.3,371.2 405.8,368.6 409.3,370.9 412.9,369.2 416.4,367.2 419.9,365.8 423.5,367.4 427.0,364.5 430.5,362.4 434.1,357.3 437.6,358.5 441.1,353.0 444.7,349.8 448.2,347.4 451.7,339.4 455.3,336.1 458.8,335.6 462.3,330.7 465.9,328.4 469.4,325.6 472.9,319.6 476.5,313.7 480.0,301.9 483.5,295.3 487.1,297.3 490.6,289.1 494.1,283.1 497.7,275.4 501.2,267.3 504.7,260.2 508.3,252.2" fill="none" stroke="#c6c6c6" stroke-width="1.1" stroke-linejoin="round"/>
<polyline points="183.3,-5.4 186.8,3.7 190.3,6.0 193.9,12.7 197.4,21.4 200.9,27.4 204.5,34.0 208.0,47.4 211.5,57.6 215.0,69.4 218.6,76.8 222.1,88.7 225.6,103.3 229.2,117.1 232.7,128.2 236.2,145.4 239.8,153.6 243.3,157.5 246.8,170.9 250.4,179.7 253.9,186.6 257.4,188.4 261.0,194.8 264.5,193.3 268.0,200.1 271.6,206.3 275.1,213.1 278.6,214.0 282.2,215.7 285.7,221.4 289.2,223.9 292.8,228.1 296.3,235.6 299.8,243.1 303.4,251.5 306.9,256.8 310.4,264.1 314.0,266.0 317.5,271.9 321.0,280.3 324.6,287.8 328.1,292.2 331.6,295.3 335.2,301.4 338.7,305.2 342.2,313.6 345.8,318.8 349.3,322.9 352.8,328.7 356.4,333.5 359.9,336.5 363.4,342.9 367.0,345.3 370.5,352.1 374.0,354.3 377.5,358.9 381.1,361.9 384.6,361.6 388.1,360.4 391.7,364.0 395.2,365.5 398.7,363.1 402.3,366.9 405.8,363.9 409.3,367.4 412.9,370.6 416.4,365.8 419.9,364.5 423.5,363.6 427.0,367.2 430.5,360.7 434.1,358.4 437.6,357.7 441.1,352.9 444.7,351.5 448.2,347.6 451.7,343.5 455.3,334.2 458.8,329.7 462.3,320.8 465.9,318.7 469.4,315.4 472.9,302.5 476.5,300.7 480.0,289.2 483.5,285.7 487.1,275.2 490.6,269.8 494.1,257.1 497.7,245.4 501.2,237.8 504.7,231.5 508.3,226.1" fill="none" stroke="#c6c6c6" stroke-width="1.1" stroke-linejoin="round"/>
<polyline points="179.7,-6.0 183.3,1.9 186.8,6.6 190.3,14.0 193.9,21.1 197.4,29.9 200.9,38.0 204.5,51.1 208.0,60.4 211.5,71.8 215.0,78.3 218.6,91.8 222.1,103.7 225.6,120.4 229.2,130.1 232.7,136.5 236.2,148.3 239.8,156.6 243.3,167.4 246.8,176.3 250.4,179.3 253.9,186.9 257.4,194.6 261.0,198.2 264.5,202.8 268.0,203.4 271.6,206.7 275.1,216.2 278.6,218.2 282.2,226.5 285.7,229.5 289.2,232.9 292.8,240.6 296.3,247.7 299.8,251.1 303.4,258.9 306.9,268.3 310.4,269.0 314.0,274.5 317.5,281.4 321.0,288.0 324.6,292.3 328.1,299.4 331.6,303.9 335.2,310.1 338.7,318.7 342.2,321.1 345.8,327.2 349.3,335.3 352.8,340.7 356.4,350.5 359.9,355.4 363.4,358.7 367.0,356.0 370.5,355.5 374.0,355.0 377.5,357.4 381.1,355.8 384.6,361.1 388.1,364.8 391.7,366.5 395.2,364.2 398.7,365.1 402.3,365.9 405.8,364.9 409.3,362.2 412.9,364.0 416.4,360.8 419.9,358.3 423.5,351.4 427.0,350.7 430.5,352.5 434.1,347.5 437.6,343.0 441.1,342.3 444.7,344.0 448.2,332.1 451.7,325.7 455.3,320.7 458.8,313.5 462.3,302.7 465.9,292.7 469.4,289.9 472.9,279.7 476.5,275.1 480.0,269.0 483.5,262.5 487.1,255.5 490.6,248.5 494.1,242.7 497.7,234.2 501.2,228.8 504.7,218.3 508.3,212.4" fill="none" stroke="#c6c6c6" stroke-width="1.1" stroke-linejoin="round"/>
<polyline points="179.7,-4.0 183.3,2.7 186.8,10.0 190.3,11.6 193.9,21.4 197.4,26.9 200.9,35.7 204.5,49.2 208.0,56.1 211.5,71.5 215.0,80.2 218.6,90.9 222.1,103.0 225.6,117.7 229.2,125.3 232.7,133.6 236.2,149.8 239.8,160.7 243.3,164.5 246.8,174.6 250.4,178.6 253.9,188.1 257.4,194.3 261.0,197.3 264.5,200.4 268.0,209.0 271.6,214.4 275.1,215.2 278.6,215.9 282.2,220.7 285.7,226.3 289.2,231.9 292.8,242.2 296.3,246.3 299.8,250.3 303.4,256.4 306.9,267.4 310.4,275.5 314.0,277.3 317.5,287.8 321.0,295.1 324.6,294.4 328.1,303.1 331.6,309.6 335.2,311.9 338.7,315.4 342.2,322.2 345.8,331.3 349.3,335.7 352.8,338.2 356.4,344.0 359.9,348.6 363.4,346.2 367.0,347.7 370.5,348.7 374.0,349.6 377.5,355.6 381.1,355.1 384.6,353.1 388.1,352.9 391.7,357.3 395.2,360.2 398.7,359.4 402.3,355.0 405.8,354.3 409.3,352.2 412.9,354.6 416.4,349.5 419.9,350.3 423.5,344.8 427.0,344.1 430.5,350.2 434.1,344.6 437.6,342.0 441.1,338.9 444.7,333.7 448.2,325.7 451.7,320.0 455.3,313.3 458.8,311.0 462.3,312.0 465.9,306.0 469.4,300.9 472.9,294.5 476.5,279.1 480.0,272.8 483.5,270.8 487.1,260.4 490.6,255.3 494.1,251.8 497.7,239.5 501.2,233.7 504.7,225.3 508.3,211.3" fill="none" stroke="#c6c6c6" stroke-width="1.1" stroke-linejoin="round"/>
<polyline points="183.3,-5.8 186.8,-1.5 190.3,2.5 193.9,7.8 197.4,18.3 200.9,20.9 204.5,30.4 208.0,36.0 211.5,43.7 215.0,54.9 218.6,63.4 222.1,77.1 225.6,90.8 229.2,105.1 232.7,119.6 236.2,129.7 239.8,144.2 243.3,151.8 246.8,160.5 250.4,163.0 253.9,174.6 257.4,176.8 261.0,182.5 264.5,187.8 268.0,195.1 271.6,201.3 275.1,205.0 278.6,208.2 282.2,210.2 285.7,216.2 289.2,216.0 292.8,218.1 296.3,232.7 299.8,236.1 303.4,241.6 306.9,249.9 310.4,261.8 314.0,268.5 317.5,271.1 321.0,273.4 324.6,278.2 328.1,283.4 331.6,290.6 335.2,293.5 338.7,298.5 342.2,301.6 345.8,308.8 349.3,316.0 352.8,323.9 356.4,321.7 359.9,327.8 363.4,333.4 367.0,340.2 370.5,337.2 374.0,341.7 377.5,340.8 381.1,340.4 384.6,337.4 388.1,341.6 391.7,346.3 395.2,340.9 398.7,339.6 402.3,340.9 405.8,339.5 409.3,333.3 412.9,334.4 416.4,336.1 419.9,334.7 423.5,331.3 427.0,329.2 430.5,326.9 434.1,324.5 437.6,325.7 441.1,319.9 444.7,313.9 448.2,309.9 451.7,307.5 455.3,303.8 458.8,298.6 462.3,293.5 465.9,292.4 469.4,284.7 472.9,273.9 476.5,269.2 480.0,263.8 483.5,254.4 487.1,247.4 490.6,242.0 494.1,233.2 497.7,220.7 501.2,210.1 504.7,205.2 508.3,199.4" fill="none" stroke="#c6c6c6" stroke-width="1.1" stroke-linejoin="round"/>
<polyline points="190.3,-10.9 193.9,-1.6 197.4,6.7 200.9,10.6 204.5,18.8 208.0,21.6 211.5,26.5 215.0,31.5 218.6,42.5 222.1,48.7 225.6,59.3 229.2,72.9 232.7,84.9 236.2,100.5 239.8,121.1 243.3,126.0 246.8,135.4 250.4,141.9 253.9,152.6 257.4,163.5 261.0,172.6 264.5,179.9 268.0,183.8 271.6,193.2 275.1,198.1 278.6,197.3 282.2,206.4 285.7,211.5 289.2,213.3 292.8,215.7 296.3,217.8 299.8,219.0 303.4,223.6 306.9,227.8 310.4,236.1 314.0,242.1 317.5,250.5 321.0,256.8 324.6,261.7 328.1,268.0 331.6,280.8 335.2,288.5 338.7,287.1 342.2,299.6 345.8,302.5 349.3,309.5 352.8,312.8 356.4,317.6 359.9,320.2 363.4,326.4 367.0,325.2 370.5,322.7 374.0,334.5 377.5,337.1 381.1,340.9 384.6,339.1 388.1,335.1 391.7,333.2 395.2,331.9 398.7,333.9 402.3,336.7 405.8,333.3 409.3,335.8 412.9,336.9 416.4,334.5 419.9,335.9 423.5,332.7 427.0,331.8 430.5,327.0 434.1,320.4 437.6,319.0 441.1,313.2 444.7,306.4 448.2,304.7 451.7,299.0 455.3,293.6 458.8,281.9 462.3,278.7 465.9,271.9 469.4,269.0 472.9,262.6 476.5,251.7 480.0,244.9 483.5,235.1 487.1,228.2 490.6,214.3 494.1,211.1 497.7,202.6 501.2,198.9 504.7,192.6 508.3,188.5" fill="none" stroke="#c6c6c6" stroke-width="1.1" stroke-linejoin="round"/>
<polyline points="186.8,-7.3 190.3,-2.1 193.9,0.2 197.4,8.2 200.9,9.2 204.5,15.2 208.0,23.5 211.5,31.7 215.0,38.9 218.6,49.6 222.1,57.7 225.6,69.8 229.2,84.6 232.7,97.0 236.2,110.0 239.8,119.9 243.3,134.3 246.8,145.6 250.4,159.4 253.9,165.0 257.4,171.8 261.0,180.1 264.5,180.4 268.0,187.4 271.6,196.1 275.1,196.4 278.6,202.1 282.2,214.6 285.7,213.8 289.2,216.5 292.8,219.9 296.3,224.8 299.8,231.6 303.4,235.5 306.9,245.5 310.4,249.8 314.0,252.6 317.5,257.1 321.0,266.6 324.6,268.2 328.1,276.4 331.6,285.3 335.2,290.8 338.7,298.0 342.2,299.4 345.8,306.9 349.3,311.9 352.8,317.3 356.4,320.7 359.9,322.3 363.4,318.6 367.0,321.8 370.5,321.8 374.0,325.6 377.5,325.8 381.1,331.5 384.6,334.8 388.1,328.0 391.7,328.3 395.2,333.4 398.7,330.0 402.3,330.1 405.8,330.0 409.3,326.6 412.9,329.8 416.4,324.2 419.9,323.2 423.5,323.8 427.0,325.2 430.5,316.4 434.1,316.2 437.6,316.9 441.1,312.1 444.7,305.9 448.2,299.9 451.7,291.9 455.3,287.4 458.8,283.6 462.3,272.3 465.9,263.7 469.4,264.0 472.9,254.7 476.5,250.3 480.0,238.5 483.5,235.0 487.1,225.7 490.6,213.5 494.1,206.3 497.7,196.5 501.2,191.9 504.7,186.7 508.3,179.5" fill="none" stroke="#c6c6c6" stroke-width="1.1" stroke-linejoin="round"/>
<polyline points="197.4,-6.7 200.9,0.6 204.5,11.5 208.0,17.4 211.5,22.9 215.0,29.4 218.6,38.3 222.1,44.3 225.6,52.8 229.2,62.4 232.7,77.3 236.2,93.9 239.8,100.7 243.3,113.3 246.8,124.2 250.4,134.0 253.9,142.1 257.4,156.1 261.0,162.6 264.5,165.3 268.0,176.8 271.6,181.9 275.1,182.2 278.6,186.1 282.2,190.7 285.7,196.2 289.2,205.0 292.8,207.4 296.3,213.3 299.8,215.6 303.4,221.4 306.9,227.8 310.4,230.7 314.0,232.4 317.5,241.0 321.0,247.4 324.6,253.0 328.1,260.3 331.6,272.4 335.2,280.1 338.7,284.6 342.2,290.3 345.8,290.7 349.3,295.3 352.8,302.4 356.4,302.8 359.9,302.7 363.4,304.7 367.0,306.9 370.5,313.8 374.0,314.4 377.5,313.6 381.1,316.3 384.6,317.8 388.1,315.7 391.7,317.1 395.2,318.1 398.7,316.2 402.3,314.5 405.8,310.4 409.3,310.3 412.9,311.9 416.4,307.2 419.9,307.0 423.5,301.4 427.0,300.5 430.5,295.3 434.1,291.6 437.6,289.1 441.1,288.6 444.7,283.8 448.2,274.4 451.7,270.6 455.3,263.7 458.8,260.7 462.3,256.9 465.9,255.1 469.4,248.0 472.9,245.2 476.5,241.2 480.0,231.6 483.5,229.6 487.1,217.3 490.6,214.6 494.1,212.1 497.7,203.2 501.2,202.3 504.7,196.2 508.3,190.8" fill="none" stroke="#c6c6c6" stroke-width="1.1" stroke-linejoin="round"/>
<polyline points="200.9,-6.8 204.5,1.8 208.0,7.5 211.5,10.5 215.0,17.5 218.6,24.4 222.1,33.3 225.6,37.6 229.2,50.8 232.7,54.2 236.2,62.7 239.8,73.3 243.3,85.6 246.8,97.6 250.4,107.7 253.9,119.2 257.4,129.3 261.0,139.9 264.5,145.3 268.0,153.7 271.6,160.5 275.1,170.2 278.6,179.0 282.2,185.1 285.7,187.4 289.2,194.4 292.8,195.3 296.3,201.8 299.8,205.8 303.4,208.0 306.9,215.1 310.4,223.2 314.0,221.3 317.5,226.6 321.0,233.5 324.6,235.1 328.1,238.8 331.6,250.9 335.2,260.8 338.7,263.9 342.2,277.8 345.8,283.2 349.3,288.9 352.8,297.1 356.4,302.4 359.9,304.8 363.4,303.9 367.0,303.4 370.5,297.8 374.0,305.3 377.5,306.5 381.1,310.4 384.6,308.7 388.1,309.7 391.7,314.8 395.2,314.3 398.7,312.3 402.3,309.2 405.8,307.6 409.3,305.8 412.9,305.8 416.4,303.4 419.9,302.5 423.5,298.4 427.0,295.9 430.5,296.7 434.1,292.9 437.6,290.6 441.1,285.3 444.7,278.1 448.2,272.7 451.7,267.3 455.3,262.5 458.8,251.1 462.3,245.5 465.9,241.4 469.4,234.1 472.9,222.6 476.5,209.9 480.0,201.3 483.5,197.0 487.1,187.4 490.6,185.0 494.1,172.8 497.7,165.2 501.2,155.6 504.7,150.4 508.3,139.2" fill="none" stroke="#c6c6c6" stroke-width="1.1" stroke-linejoin="round"/>
<polyline points="197.4,-7.5 200.9,-0.3 204.5,4.9 208.0,10.0 211.5,12.5 215.0,18.7 218.6,28.4 222.1,35.5 225.6,37.9 229.2,43.3 232.7,55.3 236.2,62.6 239.8,73.7 243.3,81.5 246.8,95.8 250.4,103.3 253.9,115.7 257.4,128.6 261.0,134.9 264.5,142.5 268.0,155.8 271.6,168.3 275.1,172.0 278.6,175.1 282.2,181.9 285.7,186.2 289.2,192.1 292.8,197.8 296.3,200.4 299.8,201.7 303.4,206.5 306.9,213.0 310.4,219.3 314.0,222.2 317.5,232.0 321.0,233.0 324.6,236.2 328.1,239.8 331.6,244.4 335.2,248.7 338.7,256.3 342.2,256.7 345.8,261.5 349.3,265.0 352.8,270.1 356.4,277.0 359.9,276.7 363.4,280.3 367.0,283.7 370.5,285.0 374.0,283.3 377.5,288.0 381.1,289.5 384.6,287.5 388.1,292.7 391.7,291.7 395.2,294.4 398.7,293.3 402.3,294.2 405.8,291.6 409.3,294.1 412.9,293.7 416.4,292.9 419.9,290.4 423.5,284.2 427.0,281.4 430.5,277.7 434.1,276.4 437.6,273.0 441.1,268.3 444.7,263.8 448.2,261.6 451.7,257.6 455.3,254.7 458.8,245.8 462.3,237.8 465.9,228.7 469.4,234.4 472.9,224.0 476.5,216.5 480.0,204.3 483.5,203.3 487.1,200.6 490.6,193.5 494.1,191.3 497.7,186.9 501.2,176.4 504.7,173.9 508.3,168.1" fill="none" stroke="#c6c6c6" stroke-width="1.1" stroke-linejoin="round"/>
<polyline points="197.4,-2.3 200.9,2.1 204.5,7.9 208.0,10.4 211.5,16.3 215.0,26.3 218.6,33.7 222.1,37.5 225.6,47.4 229.2,58.1 232.7,72.3 236.2,76.3 239.8,85.9 243.3,96.8 246.8,109.5 250.4,120.4 253.9,129.7 257.4,142.1 261.0,149.5 264.5,153.1 268.0,164.3 271.6,171.5 275.1,173.4 278.6,180.9 282.2,183.2 285.7,188.2 289.2,193.1 292.8,200.6 296.3,207.2 299.8,207.8 303.4,213.2 306.9,218.5 310.4,228.6 314.0,230.3 317.5,226.2 321.0,231.1 324.6,232.6 328.1,239.5 331.6,249.2 335.2,252.1 338.7,251.2 342.2,256.9 345.8,262.8 349.3,267.2 352.8,273.8 356.4,276.4 359.9,277.9 363.4,277.8 367.0,279.4 370.5,286.1 374.0,292.4 377.5,292.2 381.1,293.8 384.6,291.0 388.1,294.8 391.7,292.8 395.2,293.7 398.7,289.7 402.3,290.1 405.8,295.3 409.3,298.4 412.9,292.3 416.4,292.1 419.9,286.0 423.5,284.7 427.0,278.2 430.5,278.6 434.1,279.3 437.6,281.5 441.1,274.4 444.7,270.8 448.2,267.2 451.7,255.2 455.3,251.8 458.8,252.0 462.3,245.1 465.9,244.4 469.4,238.6 472.9,228.4 476.5,225.6 480.0,217.1 483.5,209.0 487.1,200.9 490.6,196.0 494.1,190.7 497.7,180.3 501.2,169.3 504.7,164.0 508.3,152.4" fill="none" stroke="#c6c6c6" stroke-width="1.1" stroke-linejoin="round"/>
<polyline points="197.4,-5.8 200.9,0.0 204.5,5.7 208.0,9.2 211.5,18.5 215.0,21.2 218.6,32.2 222.1,33.6 225.6,42.2 229.2,45.8 232.7,59.2 236.2,70.1 239.8,87.0 243.3,97.5 246.8,107.1 250.4,116.6 253.9,125.9 257.4,136.8 261.0,147.3 264.5,154.0 268.0,167.4 271.6,174.1 275.1,177.0 278.6,183.1 282.2,185.2 285.7,193.5 289.2,199.1 292.8,201.4 296.3,201.6 299.8,211.7 303.4,219.9 306.9,224.6 310.4,228.9 314.0,229.1 317.5,229.4 321.0,234.0 324.6,237.7 328.1,240.5 331.6,244.5 335.2,248.7 338.7,252.8 342.2,254.3 345.8,262.7 349.3,266.9 352.8,268.5 356.4,264.3 359.9,272.8 363.4,273.8 367.0,279.2 370.5,281.1 374.0,284.3 377.5,279.4 381.1,281.2 384.6,284.7 388.1,282.6 391.7,285.1 395.2,283.0 398.7,285.6 402.3,283.3 405.8,279.6 409.3,276.7 412.9,277.3 416.4,276.2 419.9,276.8 423.5,276.6 427.0,269.9 430.5,261.2 434.1,256.7 437.6,252.2 441.1,249.3 444.7,245.7 448.2,241.6 451.7,232.6 455.3,230.9 458.8,223.4 462.3,223.9 465.9,220.5 469.4,213.4 472.9,210.8 476.5,198.7 480.0,193.2 483.5,187.0 487.1,183.3 490.6,175.9 494.1,172.3 497.7,162.2 501.2,154.2 504.7,152.4 508.3,148.9" fill="none" stroke="#c6c6c6" stroke-width="1.1" stroke-linejoin="round"/>
<polyline points="208.0,-2.5 211.5,3.3 215.0,12.1 218.6,17.7 222.1,21.7 225.6,29.0 229.2,39.0 232.7,48.1 236.2,46.8 239.8,60.9 243.3,72.4 246.8,81.3 250.4,91.3 253.9,98.5 257.4,110.9 261.0,119.3 264.5,129.8 268.0,139.6 271.6,149.4 275.1,159.9 278.6,167.7 282.2,176.1 285.7,181.2 289.2,184.9 292.8,189.0 296.3,197.2 299.8,202.6 303.4,206.4 306.9,206.2 310.4,211.1 314.0,215.3 317.5,217.1 321.0,222.0 324.6,229.1 328.1,229.0 331.6,235.7 335.2,237.7 338.7,242.7 342.2,246.6 345.8,248.7 349.3,256.1 352.8,264.0 356.4,265.0 359.9,267.9 363.4,271.1 367.0,273.1 370.5,279.1 374.0,278.9 377.5,280.3 381.1,280.2 384.6,281.6 388.1,283.5 391.7,281.2 395.2,278.8 398.7,280.5 402.3,283.2 405.8,283.8 409.3,278.9 412.9,283.5 416.4,280.9 419.9,278.4 423.5,275.9 427.0,280.1 430.5,275.3 434.1,277.7 437.6,273.0 441.1,269.8 444.7,268.6 448.2,255.6 451.7,251.7 455.3,249.7 458.8,243.9 462.3,234.6 465.9,223.6 469.4,215.7 472.9,210.4 476.5,195.9 480.0,187.1 483.5,174.5 487.1,163.9 490.6,156.5 494.1,145.0 497.7,138.1 501.2,126.5 504.7,122.7 508.3,116.2" fill="none" stroke="#c6c6c6" stroke-width="1.1" stroke-linejoin="round"/>
<polyline points="204.5,-6.5 208.0,-1.6 211.5,1.6 215.0,3.4 218.6,7.4 222.1,15.5 225.6,22.2 229.2,27.1 232.7,37.3 236.2,43.3 239.8,49.2 243.3,57.1 246.8,68.4 250.4,80.0 253.9,91.3 257.4,96.1 261.0,107.2 264.5,121.2 268.0,135.1 271.6,141.4 275.1,145.0 278.6,155.4 282.2,165.8 285.7,169.5 289.2,176.9 292.8,182.8 296.3,187.1 299.8,193.3 303.4,196.1 306.9,199.3 310.4,205.4 314.0,211.8 317.5,214.6 321.0,225.5 324.6,227.3 328.1,230.5 331.6,230.5 335.2,237.2 338.7,236.8 342.2,241.6 345.8,244.3 349.3,245.1 352.8,250.1 356.4,256.1 359.9,258.1 363.4,260.3 367.0,258.2 370.5,263.2 374.0,263.8 377.5,263.7 381.1,264.6 384.6,268.9 388.1,273.6 391.7,270.1 395.2,265.8 398.7,265.5 402.3,263.0 405.8,263.5 409.3,260.9 412.9,257.0 416.4,257.2 419.9,252.6 423.5,252.0 427.0,252.2 430.5,246.9 434.1,243.7 437.6,238.3 441.1,233.0 444.7,229.9 448.2,224.2 451.7,221.0 455.3,213.4 458.8,211.3 462.3,208.6 465.9,198.1 469.4,197.7 472.9,190.1 476.5,183.0 480.0,173.7 483.5,168.8 487.1,163.1 490.6,161.3 494.1,150.0 497.7,146.4 501.2,138.7 504.7,133.6 508.3,122.9" fill="none" stroke="#c6c6c6" stroke-width="1.1" stroke-linejoin="round"/>
<polyline points="215.0,-3.4 218.6,6.3 222.1,7.4 225.6,16.2 229.2,20.7 232.7,25.2 236.2,32.0 239.8,41.0 243.3,44.9 246.8,56.1 250.4,67.6 253.9,71.7 257.4,78.7 261.0,95.5 264.5,104.7 268.0,113.9 271.6,130.8 275.1,138.1 278.6,141.8 282.2,153.4 285.7,156.9 289.2,160.3 292.8,170.3 296.3,179.5 299.8,184.7 303.4,193.7 306.9,193.5 310.4,197.7 314.0,207.1 317.5,212.3 321.0,215.7 324.6,215.7 328.1,218.3 331.6,225.4 335.2,228.7 338.7,233.8 342.2,235.9 345.8,240.7 349.3,238.6 352.8,243.6 356.4,249.6 359.9,256.3 363.4,261.9 367.0,260.3 370.5,260.3 374.0,259.2 377.5,266.3 381.1,265.7 384.6,271.3 388.1,269.4 391.7,269.0 395.2,269.7 398.7,270.5 402.3,270.9 405.8,270.1 409.3,273.2 412.9,267.1 416.4,267.9 419.9,263.9 423.5,261.3 427.0,256.7 430.5,254.6 434.1,252.2 437.6,248.5 441.1,242.9 444.7,241.7 448.2,240.1 451.7,234.6 455.3,229.6 458.8,222.3 462.3,216.6 465.9,211.5 469.4,203.4 472.9,198.3 476.5,191.7 480.0,187.7 483.5,177.3 487.1,170.8 490.6,168.3 494.1,163.3 497.7,150.1 501.2,143.9 504.7,133.1 508.3,122.4" fill="none" stroke="#c6c6c6" stroke-width="1.1" stroke-linejoin="round"/>
<polyline points="215.0,-5.0 218.6,3.3 222.1,8.4 225.6,9.5 229.2,16.9 232.7,21.4 236.2,28.5 239.8,39.8 243.3,48.1 246.8,54.5 250.4,65.2 253.9,70.3 257.4,79.6 261.0,94.5 264.5,101.6 268.0,112.9 271.6,123.0 275.1,130.1 278.6,145.0 282.2,154.2 285.7,159.5 289.2,170.2 292.8,171.1 296.3,186.3 299.8,185.2 303.4,188.1 306.9,195.8 310.4,200.1 314.0,206.7 317.5,205.2 321.0,211.6 324.6,215.5 328.1,220.0 331.6,228.6 335.2,236.2 338.7,236.2 342.2,234.8 345.8,237.8 349.3,243.2 352.8,245.9 356.4,250.7 359.9,250.1 363.4,252.8 367.0,255.9 370.5,253.5 374.0,260.0 377.5,264.8 381.1,265.7 384.6,267.2 388.1,268.2 391.7,264.9 395.2,262.6 398.7,266.6 402.3,264.9 405.8,262.6 409.3,263.9 412.9,256.6 416.4,252.9 419.9,248.4 423.5,247.4 427.0,244.8 430.5,239.3 434.1,234.8 437.6,231.6 441.1,225.1 444.7,222.5 448.2,214.2 451.7,208.8 455.3,206.0 458.8,203.7 462.3,195.5 465.9,186.4 469.4,181.8 472.9,172.8 476.5,167.2 480.0,160.0 483.5,160.7 487.1,155.9 490.6,148.4 494.1,141.3 497.7,135.7 501.2,130.6 504.7,129.7 508.3,117.5" fill="none" stroke="#c6c6c6" stroke-width="1.1" stroke-linejoin="round"/>
<polyline points="222.1,-2.4 225.6,5.8 229.2,13.8 232.7,22.7 236.2,24.7 239.8,31.7 243.3,35.4 246.8,39.7 250.4,48.1 253.9,53.7 257.4,66.3 261.0,78.6 264.5,86.8 268.0,97.2 271.6,102.8 275.1,119.4 278.6,130.8 282.2,134.8 285.7,146.7 289.2,155.2 292.8,163.8 296.3,170.1 299.8,170.5 303.4,176.1 306.9,184.5 310.4,186.3 314.0,197.3 317.5,202.2 321.0,202.4 324.6,213.1 328.1,219.7 331.6,225.1 335.2,228.2 338.7,228.6 342.2,228.8 345.8,231.6 349.3,234.4 352.8,240.0 356.4,246.7 359.9,252.5 363.4,254.4 367.0,258.9 370.5,263.0 374.0,261.2 377.5,264.9 381.1,266.0 384.6,260.9 388.1,263.0 391.7,264.2 395.2,266.1 398.7,268.6 402.3,265.6 405.8,266.3 409.3,265.5 412.9,265.7 416.4,262.3 419.9,260.1 423.5,264.2 427.0,261.5 430.5,256.4 434.1,246.5 437.6,246.6 441.1,240.5 444.7,232.6 448.2,225.6 451.7,222.9 455.3,214.2 458.8,207.8 462.3,201.2 465.9,195.3 469.4,191.7 472.9,182.4 476.5,176.3 480.0,162.6 483.5,152.6 487.1,139.8 490.6,137.6 494.1,132.4 497.7,121.8 501.2,111.1 504.7,99.6 508.3,94.8" fill="none" stroke="#c6c6c6" stroke-width="1.1" stroke-linejoin="round"/>
<polyline points="218.6,-5.6 222.1,-1.4 225.6,6.2 229.2,19.9 232.7,19.9 236.2,26.0 239.8,27.4 243.3,34.6 246.8,40.6 250.4,54.4 253.9,60.4 257.4,68.6 261.0,78.5 264.5,86.1 268.0,94.5 271.6,106.3 275.1,114.3 278.6,120.8 282.2,131.2 285.7,142.6 289.2,151.1 284.6,160.0 293.8,176.1 303.0,185.3 309.9,194.5 314.5,203.7 326.0,212.9 335.2,222.1 344.4,238.2 353.6,243.9 362.8,247.4 376.6,246.2 388.0,245.0 400.0,246.1 406.7,247.8 413.5,242.7 420.2,244.4 427.0,232.6 433.7,219.1 438.8,220.8 445.5,214.9 450.6,204.0 455.6,189.6 464.1,193.8 467.5,183.7 470.8,175.3 474.2,166.9 480.0,156.7 490.0,135.0 500.0,118.0 508.3,104.0" fill="none" stroke="#c6c6c6" stroke-width="1.1" stroke-linejoin="round"/>
<g stroke="#b7785c" stroke-width="1.3" fill="none">
<rect x="49.4" y="492.4" width="13.9" height="47.8"/>
<line x1="49.4" y1="509.9" x2="63.3" y2="509.9"/>
<line x1="56.4" y1="418.2" x2="56.4" y2="492.4"/><line x1="56.4" y1="540.2" x2="56.4" y2="593.7"/>
<line x1="52.5" y1="418.2" x2="60.3" y2="418.2"/><line x1="52.5" y1="593.7" x2="60.3" y2="593.7"/>
</g>
<g stroke="#b7785c" stroke-width="1.3" fill="none">
<rect x="154.8" y="482.1" width="14.7" height="31.0"/>
<line x1="154.8" y1="500.9" x2="169.5" y2="500.9"/>
<line x1="162.2" y1="444.4" x2="162.2" y2="482.1"/><line x1="162.2" y1="513.1" x2="162.2" y2="558.3"/>
<line x1="158.29999999999998" y1="444.4" x2="166.1" y2="444.4"/><line x1="158.29999999999998" y1="558.3" x2="166.1" y2="558.3"/>
</g>
<circle cx="162.2" cy="561.2" r="2.3" fill="none" stroke="#000" stroke-width="1.15"/>
<circle cx="162.2" cy="568.4" r="2.3" fill="none" stroke="#000" stroke-width="1.15"/>
<g stroke="#b7785c" stroke-width="1.3" fill="none">
<rect x="264.6" y="489.2" width="14.7" height="37.7"/>
<line x1="264.6" y1="505.3" x2="279.3" y2="505.3"/>
<line x1="272.0" y1="437.8" x2="272.0" y2="489.2"/><line x1="272.0" y1="526.9" x2="272.0" y2="558.4"/>
<line x1="268.1" y1="437.8" x2="275.9" y2="437.8"/><line x1="268.1" y1="558.4" x2="275.9" y2="558.4"/>
</g>
<circle cx="272.0" cy="429.8" r="2.3" fill="none" stroke="#000" stroke-width="1.15"/>
<circle cx="272.0" cy="597.6" r="2.3" fill="none" stroke="#000" stroke-width="1.15"/>
<g stroke="#b7785c" stroke-width="1.3" fill="none">
<rect x="374.2" y="505.6" width="14.6" height="27.1"/>
<line x1="374.2" y1="514.1" x2="388.8" y2="514.1"/>
<line x1="381.5" y1="469.4" x2="381.5" y2="505.6"/><line x1="381.5" y1="532.7" x2="381.5" y2="547.3"/>
<line x1="377.6" y1="469.4" x2="385.4" y2="469.4"/><line x1="377.6" y1="547.3" x2="385.4" y2="547.3"/>
</g>
<polyline points="42.3,478.5 56.3,474.3 66.8,475.1 74.5,473.4 82.1,474.7 86.9,477.6 94.6,482.4 101.3,480.5 110.9,481.4 116.6,484.3 124.3,490.0 132.0,493.9 139.6,494.8 145.0,496.9 149.9,496.3 154.8,492.6 161.0,487.7 169.6,482.2 179.2,477.4 188.7,475.1 196.4,473.5 202.1,477.4 206.0,478.3 209.8,479.3 215.6,482.2 221.3,480.8 227.0,478.7 232.8,478.3 236.6,476.4 244.3,478.9 253.9,483.5 257.4,482.0 264.7,480.7 269.6,483.8 273.4,487.0 279.2,489.2 285.9,497.8 292.6,498.7 300.2,499.7 304.1,498.7 313.6,501.0 321.3,499.7 330.9,504.5 337.7,506.9 343.4,510.8 348.2,509.4 354.9,510.8 362.6,513.6 370.2,516.5 376.0,516.5 381.7,515.6 390.0,515.7 400.3,516.9 410.7,518.3 424.5,520.9 438.3,522.6 450.3,524.3 459.0,525.2 480.0,525.5 511.8,525.5" fill="none" stroke="#ff0000" stroke-width="1.7" stroke-linejoin="round"/>
<path d="M42.3,528.7 C43.8,528.3 48.0,527.5 51.5,526.4 C55.0,525.2 59.2,523.7 63.0,521.8 C66.8,519.9 70.7,517.6 74.5,514.9 C78.3,512.2 82.8,507.9 86.0,505.7 C89.2,503.5 90.7,503.7 93.6,501.5 C96.5,499.3 100.3,494.4 103.2,492.3 C106.1,490.2 108.0,489.8 110.9,489.1 C113.8,488.4 118.0,488.0 120.5,488.1 C123.0,488.2 124.3,488.9 126.2,489.7 C128.1,490.5 129.8,491.7 132.0,492.9 C134.2,494.1 137.4,496.0 139.6,496.7 C141.8,497.4 142.9,497.0 145.0,496.9 C147.1,496.8 149.5,496.3 152.4,496.3 C155.3,496.3 159.5,497.3 162.2,496.9 C164.8,496.5 165.9,494.7 168.3,493.8 C170.8,492.9 174.1,492.1 176.9,491.3 C179.7,490.5 182.0,489.8 184.9,488.9 C187.8,488.0 191.0,486.8 194.5,486.0 C198.0,485.2 202.2,484.4 206.0,484.1 C209.8,483.8 213.0,484.3 217.5,484.1 C222.0,483.9 229.0,483.1 232.8,483.1 C236.6,483.1 237.3,484.0 240.5,484.1 C243.7,484.2 248.8,483.9 252.0,483.5 C255.2,483.1 256.8,481.7 260.0,481.5 C263.2,481.3 267.4,481.7 271.5,482.5 C275.6,483.3 280.4,485.0 284.9,486.3 C289.4,487.6 293.8,488.8 298.3,490.1 C302.8,491.4 307.9,492.5 311.7,493.9 C315.5,495.3 317.8,497.3 321.3,498.7 C324.8,500.1 329.4,501.3 332.8,502.2 C336.2,503.1 338.1,503.3 341.5,504.1 C344.9,504.9 349.5,505.9 353.0,506.9 C356.5,507.8 359.1,508.7 362.6,509.8 C366.1,510.9 369.5,512.7 374.1,513.6 C378.7,514.5 384.5,514.4 390.0,515.2 C395.5,516.0 401.4,517.1 407.2,518.3 C412.9,519.5 418.8,521.3 424.5,522.6 C430.2,523.9 435.9,525.3 441.7,526.0 C447.4,526.7 455.8,526.5 459.0,526.6 C462.2,526.7 460.7,526.6 461.0,526.6" fill="none" stroke="#0000ff" stroke-width="1.7" stroke-linejoin="round"/>
<polyline points="128.0,32.9 131.5,40.5 135.3,49.2 139.2,58.7 141.5,66.4 142.6,73.1 143.9,76.0 146.8,76.9 149.7,81.7 152.6,87.5 155.4,96.1 158.3,102.8 161.2,106.6 165.0,111.4 168.9,117.2 171.7,123.9 175.3,130.5 178.2,135.3 181.1,144.9 183.9,154.5 186.8,164.1 190.7,173.6 194.5,183.2 198.3,194.7 201.2,202.4 205.0,204.3 206.9,212.0 208.3,220.0 210.5,237.8 214.4,239.7 218.2,242.6 222.0,252.1 226.8,260.8 231.6,269.4 234.5,277.0 237.4,286.6 240.2,294.3 243.4,296.7 245.3,302.5 248.2,309.2 251.1,312.0 253.9,319.7 257.8,309.2 260.7,318.7 263.5,334.1 266.4,349.4 270.2,370.5 273.1,373.3 277.9,374.3 281.7,378.1 285.3,385.3 289.2,386.3 292.0,394.9 295.9,406.4 299.7,420.8 303.5,413.1 307.4,423.6 311.2,431.3 315.0,433.2 318.9,441.8 321.7,448.5 324.6,460.0 327.5,463.9 330.3,470.0 333.8,474.4 338.6,480.1 343.4,483.9 347.2,488.7 351.1,493.5 356.8,499.3 361.6,505.0 366.4,511.5 371.9,517.3 376.4,521.2 380.9,518.0 385.4,519.2 388.6,523.7 391.8,527.6 395.2,529.5 399.5,532.9 402.9,526.9 405.5,533.8 412.4,536.4 419.3,539.0 424.5,536.4 430.5,536.4 434.8,530.3 440.0,531.8 444.9,525.0 451.6,517.1 458.4,518.9 465.1,511.0 467.0,504.2 468.2,496.9 468.8,491.3 471.9,486.4 476.2,476.0 480.4,476.0" fill="none" stroke="#000" stroke-width="2.9" stroke-linejoin="round"/>
<line x1="42.3" y1="525.5" x2="512" y2="525.5" stroke="#000" stroke-width="2.8" stroke-dasharray="10.4,3.97"/>
</g>
<path d="M42,33.0 V619.3 H511.85 V33.0 Z" fill="none" stroke="#1a1a1a" stroke-width="1"/>
<line x1="38.8" y1="558.47" x2="42" y2="558.47" stroke="#000" stroke-width="1"/>
<text x="35.4" y="562.07" font-size="11.4" text-anchor="end" textLength="6.9" lengthAdjust="spacingAndGlyphs">4</text>
<line x1="38.8" y1="470.87" x2="42" y2="470.87" stroke="#000" stroke-width="1"/>
<text x="35.4" y="474.47" font-size="11.4" text-anchor="end" textLength="6.9" lengthAdjust="spacingAndGlyphs">5</text>
<line x1="38.8" y1="383.27" x2="42" y2="383.27" stroke="#000" stroke-width="1"/>
<text x="35.4" y="386.87" font-size="11.4" text-anchor="end" textLength="6.9" lengthAdjust="spacingAndGlyphs">6</text>
<line x1="38.8" y1="295.67" x2="42" y2="295.67" stroke="#000" stroke-width="1"/>
<text x="35.4" y="299.27" font-size="11.4" text-anchor="end" textLength="6.9" lengthAdjust="spacingAndGlyphs">7</text>
<line x1="38.8" y1="208.07" x2="42" y2="208.07" stroke="#000" stroke-width="1"/>
<text x="35.4" y="211.67" font-size="11.4" text-anchor="end" textLength="6.9" lengthAdjust="spacingAndGlyphs">8</text>
<line x1="38.8" y1="120.47" x2="42" y2="120.47" stroke="#000" stroke-width="1"/>
<text x="35.4" y="124.07" font-size="11.4" text-anchor="end" textLength="6.9" lengthAdjust="spacingAndGlyphs">9</text>
<line x1="38.8" y1="32.87" x2="42" y2="32.87" stroke="#000" stroke-width="1"/>
<text x="35.4" y="36.47" font-size="11.4" text-anchor="end" textLength="14.0" lengthAdjust="spacingAndGlyphs">10</text>
<line x1="45.49" y1="619.3" x2="45.49" y2="621.8" stroke="#000" stroke-width="0.8"/>
<line x1="49.02" y1="619.3" x2="49.02" y2="621.8" stroke="#000" stroke-width="0.8"/>
<line x1="52.55" y1="619.3" x2="52.55" y2="621.8" stroke="#000" stroke-width="0.8"/>
<line x1="56.08" y1="619.3" x2="56.08" y2="621.8" stroke="#000" stroke-width="0.8"/>
<line x1="59.62" y1="619.3" x2="59.62" y2="621.8" stroke="#000" stroke-width="0.8"/>
<line x1="63.15" y1="619.3" x2="63.15" y2="621.8" stroke="#000" stroke-width="0.8"/>
<line x1="66.68" y1="619.3" x2="66.68" y2="621.8" stroke="#000" stroke-width="0.8"/>
<line x1="70.21" y1="619.3" x2="70.21" y2="621.8" stroke="#000" stroke-width="0.8"/>
<line x1="73.75" y1="619.3" x2="73.75" y2="621.8" stroke="#000" stroke-width="0.8"/>
<line x1="77.28" y1="619.3" x2="77.28" y2="621.8" stroke="#000" stroke-width="0.8"/>
<line x1="80.81" y1="619.3" x2="80.81" y2="621.8" stroke="#000" stroke-width="0.8"/>
<line x1="84.34" y1="619.3" x2="84.34" y2="621.8" stroke="#000" stroke-width="0.8"/>
<line x1="87.88" y1="619.3" x2="87.88" y2="621.8" stroke="#000" stroke-width="0.8"/>
<line x1="91.41" y1="619.3" x2="91.41" y2="621.8" stroke="#000" stroke-width="0.8"/>
<line x1="94.94" y1="619.3" x2="94.94" y2="621.8" stroke="#000" stroke-width="0.8"/>
<line x1="98.47" y1="619.3" x2="98.47" y2="621.8" stroke="#000" stroke-width="0.8"/>
<line x1="102.01" y1="619.3" x2="102.01" y2="621.8" stroke="#000" stroke-width="0.8"/>
<line x1="105.54" y1="619.3" x2="105.54" y2="621.8" stroke="#000" stroke-width="0.8"/>
<line x1="109.07" y1="619.3" x2="109.07" y2="621.8" stroke="#000" stroke-width="0.8"/>
<line x1="112.60" y1="619.3" x2="112.60" y2="621.8" stroke="#000" stroke-width="0.8"/>
<line x1="116.14" y1="619.3" x2="116.14" y2="621.8" stroke="#000" stroke-width="0.8"/>
<line x1="119.67" y1="619.3" x2="119.67" y2="621.8" stroke="#000" stroke-width="0.8"/>
<line x1="123.20" y1="619.3" x2="123.20" y2="621.8" stroke="#000" stroke-width="0.8"/>
<line x1="126.73" y1="619.3" x2="126.73" y2="621.8" stroke="#000" stroke-width="0.8"/>
<line x1="130.27" y1="619.3" x2="130.27" y2="621.8" stroke="#000" stroke-width="0.8"/>
<line x1="133.80" y1="619.3" x2="133.80" y2="621.8" stroke="#000" stroke-width="0.8"/>
<line x1="137.33" y1="619.3" x2="137.33" y2="621.8" stroke="#000" stroke-width="0.8"/>
<line x1="140.87" y1="619.3" x2="140.87" y2="621.8" stroke="#000" stroke-width="0.8"/>
<line x1="144.40" y1="619.3" x2="144.40" y2="628.6" stroke="#000" stroke-width="1.35"/>
<line x1="147.93" y1="619.3" x2="147.93" y2="621.8" stroke="#000" stroke-width="0.8"/>
<line x1="151.46" y1="619.3" x2="151.46" y2="621.8" stroke="#000" stroke-width="0.8"/>
<line x1="155.00" y1="619.3" x2="155.00" y2="621.8" stroke="#000" stroke-width="0.8"/>
<line x1="158.53" y1="619.3" x2="158.53" y2="621.8" stroke="#000" stroke-width="0.8"/>
<line x1="162.06" y1="619.3" x2="162.06" y2="621.8" stroke="#000" stroke-width="0.8"/>
<line x1="165.59" y1="619.3" x2="165.59" y2="621.8" stroke="#000" stroke-width="0.8"/>
<line x1="169.13" y1="619.3" x2="169.13" y2="621.8" stroke="#000" stroke-width="0.8"/>
<line x1="172.66" y1="619.3" x2="172.66" y2="621.8" stroke="#000" stroke-width="0.8"/>
<line x1="176.19" y1="619.3" x2="176.19" y2="621.8" stroke="#000" stroke-width="0.8"/>
<line x1="179.72" y1="619.3" x2="179.72" y2="621.8" stroke="#000" stroke-width="0.8"/>
<line x1="183.26" y1="619.3" x2="183.26" y2="621.8" stroke="#000" stroke-width="0.8"/>
<line x1="186.79" y1="619.3" x2="186.79" y2="621.8" stroke="#000" stroke-width="0.8"/>
<line x1="190.32" y1="619.3" x2="190.32" y2="621.8" stroke="#000" stroke-width="0.8"/>
<line x1="193.85" y1="619.3" x2="193.85" y2="621.8" stroke="#000" stroke-width="0.8"/>
<line x1="197.39" y1="619.3" x2="197.39" y2="621.8" stroke="#000" stroke-width="0.8"/>
<line x1="200.92" y1="619.3" x2="200.92" y2="621.8" stroke="#000" stroke-width="0.8"/>
<line x1="204.45" y1="619.3" x2="204.45" y2="621.8" stroke="#000" stroke-width="0.8"/>
<line x1="207.98" y1="619.3" x2="207.98" y2="621.8" stroke="#000" stroke-width="0.8"/>
<line x1="211.52" y1="619.3" x2="211.52" y2="621.8" stroke="#000" stroke-width="0.8"/>
<line x1="215.05" y1="619.3" x2="215.05" y2="621.8" stroke="#000" stroke-width="0.8"/>
<line x1="218.58" y1="619.3" x2="218.58" y2="621.8" stroke="#000" stroke-width="0.8"/>
<line x1="222.12" y1="619.3" x2="222.12" y2="621.8" stroke="#000" stroke-width="0.8"/>
<line x1="225.65" y1="619.3" x2="225.65" y2="621.8" stroke="#000" stroke-width="0.8"/>
<line x1="229.18" y1="619.3" x2="229.18" y2="621.8" stroke="#000" stroke-width="0.8"/>
<line x1="232.71" y1="619.3" x2="232.71" y2="621.8" stroke="#000" stroke-width="0.8"/>
<line x1="236.25" y1="619.3" x2="236.25" y2="621.8" stroke="#000" stroke-width="0.8"/>
<line x1="239.78" y1="619.3" x2="239.78" y2="621.8" stroke="#000" stroke-width="0.8"/>
<line x1="243.31" y1="619.3" x2="243.31" y2="621.8" stroke="#000" stroke-width="0.8"/>
<line x1="246.84" y1="619.3" x2="246.84" y2="621.8" stroke="#000" stroke-width="0.8"/>
<line x1="250.38" y1="619.3" x2="250.38" y2="621.8" stroke="#000" stroke-width="0.8"/>
<line x1="253.91" y1="619.3" x2="253.91" y2="628.6" stroke="#000" stroke-width="1.35"/>
<line x1="257.44" y1="619.3" x2="257.44" y2="621.8" stroke="#000" stroke-width="0.8"/>
<line x1="260.97" y1="619.3" x2="260.97" y2="621.8" stroke="#000" stroke-width="0.8"/>
<line x1="264.51" y1="619.3" x2="264.51" y2="621.8" stroke="#000" stroke-width="0.8"/>
<line x1="268.04" y1="619.3" x2="268.04" y2="621.8" stroke="#000" stroke-width="0.8"/>
<line x1="271.57" y1="619.3" x2="271.57" y2="621.8" stroke="#000" stroke-width="0.8"/>
<line x1="275.10" y1="619.3" x2="275.10" y2="621.8" stroke="#000" stroke-width="0.8"/>
<line x1="278.64" y1="619.3" x2="278.64" y2="621.8" stroke="#000" stroke-width="0.8"/>
<line x1="282.17" y1="619.3" x2="282.17" y2="621.8" stroke="#000" stroke-width="0.8"/>
<line x1="285.70" y1="619.3" x2="285.70" y2="621.8" stroke="#000" stroke-width="0.8"/>
<line x1="289.23" y1="619.3" x2="289.23" y2="621.8" stroke="#000" stroke-width="0.8"/>
<line x1="292.77" y1="619.3" x2="292.77" y2="621.8" stroke="#000" stroke-width="0.8"/>
<line x1="296.30" y1="619.3" x2="296.30" y2="621.8" stroke="#000" stroke-width="0.8"/>
<line x1="299.83" y1="619.3" x2="299.83" y2="621.8" stroke="#000" stroke-width="0.8"/>
<line x1="303.37" y1="619.3" x2="303.37" y2="621.8" stroke="#000" stroke-width="0.8"/>
<line x1="306.90" y1="619.3" x2="306.90" y2="621.8" stroke="#000" stroke-width="0.8"/>
<line x1="310.43" y1="619.3" x2="310.43" y2="621.8" stroke="#000" stroke-width="0.8"/>
<line x1="313.96" y1="619.3" x2="313.96" y2="621.8" stroke="#000" stroke-width="0.8"/>
<line x1="317.50" y1="619.3" x2="317.50" y2="621.8" stroke="#000" stroke-width="0.8"/>
<line x1="321.03" y1="619.3" x2="321.03" y2="621.8" stroke="#000" stroke-width="0.8"/>
<line x1="324.56" y1="619.3" x2="324.56" y2="621.8" stroke="#000" stroke-width="0.8"/>
<line x1="328.09" y1="619.3" x2="328.09" y2="621.8" stroke="#000" stroke-width="0.8"/>
<line x1="331.63" y1="619.3" x2="331.63" y2="621.8" stroke="#000" stroke-width="0.8"/>
<line x1="335.16" y1="619.3" x2="335.16" y2="621.8" stroke="#000" stroke-width="0.8"/>
<line x1="338.69" y1="619.3" x2="338.69" y2="621.8" stroke="#000" stroke-width="0.8"/>
<line x1="342.22" y1="619.3" x2="342.22" y2="621.8" stroke="#000" stroke-width="0.8"/>
<line x1="345.76" y1="619.3" x2="345.76" y2="621.8" stroke="#000" stroke-width="0.8"/>
<line x1="349.29" y1="619.3" x2="349.29" y2="621.8" stroke="#000" stroke-width="0.8"/>
<line x1="352.82" y1="619.3" x2="352.82" y2="621.8" stroke="#000" stroke-width="0.8"/>
<line x1="356.35" y1="619.3" x2="356.35" y2="621.8" stroke="#000" stroke-width="0.8"/>
<line x1="359.89" y1="619.3" x2="359.89" y2="621.8" stroke="#000" stroke-width="0.8"/>
<line x1="363.42" y1="619.3" x2="363.42" y2="628.6" stroke="#000" stroke-width="1.35"/>
<line x1="366.95" y1="619.3" x2="366.95" y2="621.8" stroke="#000" stroke-width="0.8"/>
<line x1="370.48" y1="619.3" x2="370.48" y2="621.8" stroke="#000" stroke-width="0.8"/>
<line x1="374.02" y1="619.3" x2="374.02" y2="621.8" stroke="#000" stroke-width="0.8"/>
<line x1="377.55" y1="619.3" x2="377.55" y2="621.8" stroke="#000" stroke-width="0.8"/>
<line x1="381.08" y1="619.3" x2="381.08" y2="621.8" stroke="#000" stroke-width="0.8"/>
<line x1="384.61" y1="619.3" x2="384.61" y2="621.8" stroke="#000" stroke-width="0.8"/>
<line x1="388.15" y1="619.3" x2="388.15" y2="621.8" stroke="#000" stroke-width="0.8"/>
<line x1="391.68" y1="619.3" x2="391.68" y2="621.8" stroke="#000" stroke-width="0.8"/>
<line x1="395.21" y1="619.3" x2="395.21" y2="621.8" stroke="#000" stroke-width="0.8"/>
<line x1="398.75" y1="619.3" x2="398.75" y2="621.8" stroke="#000" stroke-width="0.8"/>
<line x1="402.28" y1="619.3" x2="402.28" y2="621.8" stroke="#000" stroke-width="0.8"/>
<line x1="405.81" y1="619.3" x2="405.81" y2="621.8" stroke="#000" stroke-width="0.8"/>
<line x1="409.34" y1="619.3" x2="409.34" y2="621.8" stroke="#000" stroke-width="0.8"/>
<line x1="412.88" y1="619.3" x2="412.88" y2="621.8" stroke="#000" stroke-width="0.8"/>
<line x1="416.41" y1="619.3" x2="416.41" y2="621.8" stroke="#000" stroke-width="0.8"/>
<line x1="419.94" y1="619.3" x2="419.94" y2="621.8" stroke="#000" stroke-width="0.8"/>
<line x1="423.47" y1="619.3" x2="423.47" y2="621.8" stroke="#000" stroke-width="0.8"/>
<line x1="427.01" y1="619.3" x2="427.01" y2="621.8" stroke="#000" stroke-width="0.8"/>
<line x1="430.54" y1="619.3" x2="430.54" y2="621.8" stroke="#000" stroke-width="0.8"/>
<line x1="434.07" y1="619.3" x2="434.07" y2="621.8" stroke="#000" stroke-width="0.8"/>
<line x1="437.60" y1="619.3" x2="437.60" y2="621.8" stroke="#000" stroke-width="0.8"/>
<line x1="441.14" y1="619.3" x2="441.14" y2="621.8" stroke="#000" stroke-width="0.8"/>
<line x1="444.67" y1="619.3" x2="444.67" y2="621.8" stroke="#000" stroke-width="0.8"/>
<line x1="448.20" y1="619.3" x2="448.20" y2="621.8" stroke="#000" stroke-width="0.8"/>
<line x1="451.73" y1="619.3" x2="451.73" y2="621.8" stroke="#000" stroke-width="0.8"/>
<line x1="455.27" y1="619.3" x2="455.27" y2="621.8" stroke="#000" stroke-width="0.8"/>
<line x1="458.80" y1="619.3" x2="458.80" y2="621.8" stroke="#000" stroke-width="0.8"/>
<line x1="462.33" y1="619.3" x2="462.33" y2="621.8" stroke="#000" stroke-width="0.8"/>
<line x1="465.86" y1="619.3" x2="465.86" y2="621.8" stroke="#000" stroke-width="0.8"/>
<line x1="469.40" y1="619.3" x2="469.40" y2="628.6" stroke="#000" stroke-width="1.35"/>
<line x1="472.93" y1="619.3" x2="472.93" y2="621.8" stroke="#000" stroke-width="0.8"/>
<line x1="476.46" y1="619.3" x2="476.46" y2="621.8" stroke="#000" stroke-width="0.8"/>
<line x1="480.00" y1="619.3" x2="480.00" y2="621.8" stroke="#000" stroke-width="0.8"/>
<line x1="483.53" y1="619.3" x2="483.53" y2="621.8" stroke="#000" stroke-width="0.8"/>
<line x1="487.06" y1="619.3" x2="487.06" y2="621.8" stroke="#000" stroke-width="0.8"/>
<line x1="490.59" y1="619.3" x2="490.59" y2="621.8" stroke="#000" stroke-width="0.8"/>
<line x1="494.13" y1="619.3" x2="494.13" y2="621.8" stroke="#000" stroke-width="0.8"/>
<line x1="497.66" y1="619.3" x2="497.66" y2="621.8" stroke="#000" stroke-width="0.8"/>
<line x1="501.19" y1="619.3" x2="501.19" y2="621.8" stroke="#000" stroke-width="0.8"/>
<line x1="504.72" y1="619.3" x2="504.72" y2="621.8" stroke="#000" stroke-width="0.8"/>
<line x1="508.26" y1="619.3" x2="508.26" y2="621.8" stroke="#000" stroke-width="0.8"/>
<text x="88.6" y="637.2" font-size="11.4" text-anchor="middle" textLength="23.7" lengthAdjust="spacingAndGlyphs">June</text>
<text x="195.0" y="637.2" font-size="11.4" text-anchor="middle" textLength="19.3" lengthAdjust="spacingAndGlyphs">July</text>
<text x="304.4" y="637.2" font-size="11.4" text-anchor="middle" textLength="37.3" lengthAdjust="spacingAndGlyphs">August</text>
<text x="413.9" y="637.2" font-size="11.4" text-anchor="middle" textLength="59.1" lengthAdjust="spacingAndGlyphs">September</text>
<text id="ylab" transform="translate(13.9,326.4) rotate(-90)" font-size="11.4" text-anchor="middle" textLength="174.6" lengthAdjust="spacingAndGlyphs">Arctic sea ice extent (x10<tspan font-size="8" dy="-4">6</tspan><tspan dy="4"> km</tspan><tspan font-size="8" dy="-4">2</tspan><tspan dy="4">)</tspan></text>
<rect x="222.8" y="38.0" width="284.2" height="125.0" rx="2.5" fill="#fff" fill-opacity="0.8" stroke="#cccccc" stroke-opacity="0.8" stroke-width="1"/>
<line x1="226.8" y1="46.3" x2="249.5" y2="46.3" stroke="#c3c3c3" stroke-width="1.05"/>
<line x1="226.8" y1="61.3" x2="249.5" y2="61.3" stroke="#000" stroke-width="2.9"/>
<rect x="226.8" y="73.10000000000001" width="22.7" height="8.2" fill="#eeeeff"/>
<line x1="226.8" y1="92.0" x2="249.5" y2="92.0" stroke="#0000ff" stroke-width="1.7"/>
<rect x="226.8" y="103.2" width="22.7" height="8.2" fill="#ffeeee"/>
<line x1="226.8" y1="122.3" x2="249.5" y2="122.3" stroke="#ff0000" stroke-width="1.7"/>
<line x1="226.8" y1="137.9" x2="249.5" y2="137.9" stroke="#b7785c" stroke-width="1.9"/>
<line x1="226.8" y1="152.6" x2="249.5" y2="152.6" stroke="#000" stroke-width="2.8" stroke-dasharray="10.2,4.4"/>
<text x="257.0" y="50.4" font-size="11.4" textLength="80.0" lengthAdjust="spacingAndGlyphs">Previous years</text>
<text x="257.0" y="65.4" font-size="11.4" textLength="27.45" lengthAdjust="spacingAndGlyphs">2023</text>
<text x="257.0" y="81.3" font-size="11.4" textLength="242.9" lengthAdjust="spacingAndGlyphs">Correlated anomalies prediction: uncertainty</text>
<text x="257.0" y="96.1" font-size="11.4" textLength="213.4" lengthAdjust="spacingAndGlyphs">Correlated anomalies prediction: mean</text>
<text x="257.0" y="111.4" font-size="11.4" textLength="180.4" lengthAdjust="spacingAndGlyphs">Trajectory prediction: uncertainty</text>
<text x="257.0" y="126.4" font-size="11.4" textLength="159.2" lengthAdjust="spacingAndGlyphs">Trajectory prediction: median</text>
<text x="257.0" y="142.0" font-size="11.4" textLength="88.2" lengthAdjust="spacingAndGlyphs">SIPN predictions</text>
<text x="257.0" y="156.7" font-size="11.4" textLength="135.2" lengthAdjust="spacingAndGlyphs">Actual September extent</text>
</svg></body></html>
